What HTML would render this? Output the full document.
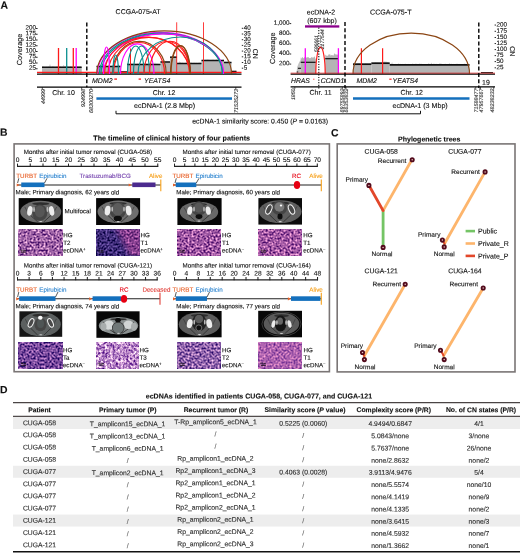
<!DOCTYPE html>
<html><head><meta charset="utf-8"><title>Figure</title>
<style>
html,body{margin:0;padding:0;background:#fff}
svg{display:block}
text{font-family:"Liberation Sans",sans-serif;stroke-width:0.12px;text-rendering:geometricPrecision}
</style></head><body>
<svg width="520" height="553" viewBox="0 0 520 553">
<defs>
<filter id="h1" x="0" y="0" width="100%" height="100%" color-interpolation-filters="sRGB"><feTurbulence type="fractalNoise" baseFrequency="0.5" numOctaves="3" seed="4"/><feColorMatrix type="matrix" values="1.570 0 0 0 -0.171  1.482 0 0 0 -0.359  1.098 0 0 0 0.098  0 0 0 0 1"/></filter>
<filter id="h2" x="0" y="0" width="100%" height="100%" color-interpolation-filters="sRGB"><feTurbulence type="fractalNoise" baseFrequency="0.5" numOctaves="3" seed="9"/><feColorMatrix type="matrix" values="1.021 0 0 0 -0.269  0.845 0 0 0 -0.252  1.054 0 0 0 -0.056  0 0 0 0 1"/></filter>
<filter id="h2b" x="0" y="0" width="100%" height="100%" color-interpolation-filters="sRGB"><feTurbulence type="fractalNoise" baseFrequency="0.5" numOctaves="3" seed="11"/><feColorMatrix type="matrix" values="1.186 0 0 0 -0.067  0.845 0 0 0 -0.174  0.845 0 0 0 0.140  0 0 0 0 1"/></filter>
<filter id="h3" x="0" y="0" width="100%" height="100%" color-interpolation-filters="sRGB"><feTurbulence type="fractalNoise" baseFrequency="0.5" numOctaves="3" seed="15"/><feColorMatrix type="matrix" values="1.537 0 0 0 -0.149  1.373 0 0 0 -0.343  1.043 0 0 0 0.116  0 0 0 0 1"/></filter>
<filter id="h4" x="0" y="0" width="100%" height="100%" color-interpolation-filters="sRGB"><feTurbulence type="fractalNoise" baseFrequency="0.5" numOctaves="3" seed="21"/><feColorMatrix type="matrix" values="1.515 0 0 0 -0.126  1.318 0 0 0 -0.314  0.988 0 0 0 0.145  0 0 0 0 1"/></filter>
<filter id="h5" x="0" y="0" width="100%" height="100%" color-interpolation-filters="sRGB"><feTurbulence type="fractalNoise" baseFrequency="0.5" numOctaves="3" seed="27"/><feColorMatrix type="matrix" values="1.482 0 0 0 -0.280  1.175 0 0 0 -0.307  0.988 0 0 0 0.114  0 0 0 0 1"/></filter>
<filter id="h6" x="0" y="0" width="100%" height="100%" color-interpolation-filters="sRGB"><feTurbulence type="fractalNoise" baseFrequency="0.38" numOctaves="3" seed="33"/><feColorMatrix type="matrix" values="1.537 0 0 0 -0.043  1.757 0 0 0 -0.349  0.988 0 0 0 0.290  0 0 0 0 1"/></filter>
<filter id="h7" x="0" y="0" width="100%" height="100%" color-interpolation-filters="sRGB"><feTurbulence type="fractalNoise" baseFrequency="0.5" numOctaves="3" seed="39"/><feColorMatrix type="matrix" values="1.504 0 0 0 -0.189  1.318 0 0 0 -0.267  0.955 0 0 0 0.195  0 0 0 0 1"/></filter>
<filter id="h8" x="0" y="0" width="100%" height="100%" color-interpolation-filters="sRGB"><feTurbulence type="fractalNoise" baseFrequency="0.5" numOctaves="3" seed="45"/><feColorMatrix type="matrix" values="1.071 0 0 0 0.141  0.867 0 0 0 -0.051  0.510 0 0 0 0.431  0 0 0 0 1"/></filter>
<filter id="blur1" x="-5%" y="-5%" width="110%" height="110%"><feGaussianBlur stdDeviation="0.5"/></filter>
<linearGradient id="fadeLR" x1="0" x2="1" y1="0.3" y2="0"><stop offset="0.42" stop-color="#000"/><stop offset="0.6" stop-color="#fff"/></linearGradient>
<mask id="mLR" maskContentUnits="objectBoundingBox"><rect width="1" height="1" fill="url(#fadeLR)"/></mask>
<clipPath id="cc187"><rect x="18.7" y="198.1" width="44.1" height="26.9"/></clipPath>
<clipPath id="cc961"><rect x="96.1" y="198.1" width="44.0" height="26.9"/></clipPath>
<clipPath id="cc1774"><rect x="177.4" y="198.1" width="44.2" height="26.9"/></clipPath>
<clipPath id="cc2584"><rect x="258.4" y="198.1" width="43.6" height="26.5"/></clipPath>
<clipPath id="cc194"><rect x="19.4" y="311.3" width="42.8" height="25.5"/></clipPath>
<clipPath id="cc964"><rect x="96.4" y="311.3" width="43.2" height="26.5"/></clipPath>
<clipPath id="cc1777"><rect x="177.7" y="311.0" width="43.9" height="26.3"/></clipPath>
<clipPath id="cc2582"><rect x="258.2" y="310.8" width="43.8" height="26.5"/></clipPath>
</defs>
<rect width="520" height="553" fill="#fff"/>
<g id="panelA">
<text x="0.40" y="8.74" font-size="10.4" font-weight="bold" fill="#111" stroke="#111" transform="rotate(0.03 0.40 8.74)">A</text>
<text x="138.10" y="14.02" font-size="7.0" text-anchor="middle" fill="#111" stroke="#111" transform="rotate(0.03 138.10 14.02)">CCGA-075-AT</text>
<text x="36.00" y="29.57" font-size="6.3" text-anchor="end" fill="#111" stroke="#111" transform="rotate(0.03 36.00 29.57)">200</text>
<line x1="35.90" y1="28.50" x2="37.60" y2="28.50" stroke="#111" stroke-width="0.9"/>
<text x="36.00" y="35.32" font-size="6.3" text-anchor="end" fill="#111" stroke="#111" transform="rotate(0.03 36.00 35.32)">175</text>
<line x1="35.90" y1="34.25" x2="37.60" y2="34.25" stroke="#111" stroke-width="0.9"/>
<text x="36.00" y="41.07" font-size="6.3" text-anchor="end" fill="#111" stroke="#111" transform="rotate(0.03 36.00 41.07)">150</text>
<line x1="35.90" y1="40.00" x2="37.60" y2="40.00" stroke="#111" stroke-width="0.9"/>
<text x="36.00" y="46.82" font-size="6.3" text-anchor="end" fill="#111" stroke="#111" transform="rotate(0.03 36.00 46.82)">125</text>
<line x1="35.90" y1="45.75" x2="37.60" y2="45.75" stroke="#111" stroke-width="0.9"/>
<text x="36.00" y="52.57" font-size="6.3" text-anchor="end" fill="#111" stroke="#111" transform="rotate(0.03 36.00 52.57)">100</text>
<line x1="35.90" y1="51.50" x2="37.60" y2="51.50" stroke="#111" stroke-width="0.9"/>
<text x="36.00" y="58.32" font-size="6.3" text-anchor="end" fill="#111" stroke="#111" transform="rotate(0.03 36.00 58.32)">75</text>
<line x1="35.90" y1="57.25" x2="37.60" y2="57.25" stroke="#111" stroke-width="0.9"/>
<text x="36.00" y="64.07" font-size="6.3" text-anchor="end" fill="#111" stroke="#111" transform="rotate(0.03 36.00 64.07)">50</text>
<line x1="35.90" y1="63.00" x2="37.60" y2="63.00" stroke="#111" stroke-width="0.9"/>
<text x="36.00" y="69.82" font-size="6.3" text-anchor="end" fill="#111" stroke="#111" transform="rotate(0.03 36.00 69.82)">25</text>
<line x1="35.90" y1="68.75" x2="37.60" y2="68.75" stroke="#111" stroke-width="0.9"/>
<text x="22.23" y="49.40" font-size="7.3" text-anchor="middle" fill="#111" stroke="#111" transform="rotate(-90 22.23 49.40)">Coverage</text>
<rect x="42.00" y="67.30" width="39.70" height="6.70" fill="#b4b4b4"/>
<polygon points="42.00,67.30 42.00,66.58 42.80,66.25 43.60,66.36 44.40,66.84 45.20,66.86 46.00,66.83 46.80,66.48 47.60,66.78 48.40,66.27 49.20,66.32 50.00,63.78 50.80,66.61 51.60,66.78 52.40,66.08 53.20,66.32 54.00,66.53 54.80,66.84 55.60,66.69 56.40,66.47 57.20,66.31 58.00,66.60 58.80,66.20 59.60,66.33 60.40,66.02 61.20,66.61 62.00,66.78 62.80,66.14 63.60,64.74 64.40,66.14 65.20,66.02 66.00,66.20 66.80,66.32 67.60,66.06 68.40,66.43 69.20,66.84 70.00,66.25 70.80,66.08 71.60,66.51 72.40,66.88 73.20,66.73 74.00,66.84 74.80,66.77 75.60,66.51 76.40,66.82 77.20,66.35 78.00,66.08 78.80,66.62 79.60,66.54 80.40,65.94 81.20,66.72 81.70,67.30" fill="#cdcdcd"/>
<line x1="42.00" y1="67.30" x2="81.70" y2="67.30" stroke="#111" stroke-width="1.5"/>
<rect x="96.50" y="66.50" width="24.00" height="7.50" fill="#b4b4b4"/>
<polygon points="96.50,66.50 96.50,65.91 97.30,65.63 98.10,66.10 98.90,65.80 99.70,65.34 100.50,65.69 101.30,65.56 102.10,65.38 102.90,65.40 103.70,65.79 104.50,66.02 105.30,66.05 106.10,65.93 106.90,65.83 107.70,66.10 108.50,66.02 109.30,66.08 110.10,65.61 110.90,65.90 111.70,65.81 112.50,65.42 113.30,65.73 114.10,66.03 114.90,65.83 115.70,65.44 116.50,66.08 117.30,65.68 118.10,64.35 118.90,65.32 119.70,65.54 120.50,65.81 120.50,66.50" fill="#cdcdcd"/>
<rect x="120.50" y="72.00" width="6.50" height="2.00" fill="#b4b4b4"/>
<polygon points="120.50,72.00 120.50,70.98 121.30,70.98 122.10,71.42 122.90,70.81 123.70,70.96 124.50,71.01 125.30,71.19 126.10,70.88 126.90,71.39 127.00,72.00" fill="#cdcdcd"/>
<rect x="127.00" y="64.50" width="33.50" height="9.50" fill="#b4b4b4"/>
<polygon points="127.00,64.50 127.00,63.33 127.80,63.35 128.60,63.34 129.40,63.92 130.20,63.94 131.00,63.60 131.80,63.43 132.60,63.58 133.40,64.03 134.20,63.37 135.00,63.50 135.80,63.96 136.60,63.83 137.40,63.32 138.20,63.78 139.00,63.52 139.80,64.00 140.60,63.38 141.40,63.98 142.20,63.32 143.00,63.82 143.80,61.57 144.60,63.58 145.40,63.35 146.20,63.40 147.00,63.93 147.80,63.87 148.60,63.63 149.40,63.76 150.20,63.37 151.00,63.73 151.80,63.38 152.60,63.37 153.40,63.67 154.20,64.09 155.00,61.96 155.80,63.96 156.60,63.52 157.40,63.84 158.20,63.66 159.00,64.02 159.80,63.90 160.50,64.50" fill="#cdcdcd"/>
<rect x="160.50" y="62.00" width="9.50" height="12.00" fill="#b4b4b4"/>
<polygon points="160.50,62.00 160.50,60.98 161.30,61.15 162.10,60.87 162.90,61.11 163.70,61.19 164.50,61.24 165.30,61.22 166.10,61.04 166.90,60.85 167.70,61.15 168.50,60.93 169.30,61.50 170.00,62.00" fill="#cdcdcd"/>
<rect x="170.00" y="57.20" width="7.00" height="16.80" fill="#b4b4b4"/>
<polygon points="170.00,57.20 170.00,56.74 170.80,56.74 171.60,56.17 172.40,56.68 173.20,56.27 174.00,56.09 174.80,56.62 175.60,56.48 176.40,56.01 177.00,57.20" fill="#cdcdcd"/>
<rect x="177.00" y="63.50" width="24.50" height="10.50" fill="#b4b4b4"/>
<polygon points="177.00,63.50 177.00,62.97 177.80,62.69 178.60,62.94 179.40,61.14 180.20,61.92 181.00,62.60 181.80,63.05 182.60,62.47 183.40,63.02 184.20,63.07 185.00,62.88 185.80,62.76 186.60,62.44 187.40,62.98 188.20,62.64 189.00,63.03 189.80,62.55 190.60,63.04 191.40,62.59 192.20,63.03 193.00,63.05 193.80,62.74 194.60,62.66 195.40,62.89 196.20,62.68 197.00,63.01 197.80,63.06 198.60,62.85 199.40,62.49 200.20,62.70 201.00,62.20 201.50,63.50" fill="#cdcdcd"/>
<rect x="201.50" y="60.50" width="22.50" height="13.50" fill="#b4b4b4"/>
<polygon points="201.50,60.50 201.50,60.09 202.30,59.66 203.10,59.72 203.90,60.01 204.70,59.75 205.50,59.43 206.30,59.69 207.10,59.31 207.90,59.43 208.70,59.59 209.50,59.82 210.30,60.00 211.10,59.51 211.90,59.97 212.70,59.43 213.50,59.56 214.30,59.91 215.10,59.73 215.90,59.74 216.70,59.33 217.50,59.66 218.30,59.33 219.10,58.86 219.90,59.72 220.70,59.94 221.50,60.10 222.30,60.03 223.10,59.31 223.90,59.91 224.00,60.50" fill="#cdcdcd"/>
<rect x="224.00" y="62.50" width="7.50" height="11.50" fill="#b4b4b4"/>
<polygon points="224.00,62.50 224.00,61.68 224.80,61.57 225.60,61.40 226.40,61.84 227.20,61.98 228.00,59.50 228.80,61.39 229.60,61.51 230.40,61.99 231.20,61.70 231.50,62.50" fill="#cdcdcd"/>
<rect x="231.50" y="71.50" width="5.00" height="2.50" fill="#b4b4b4"/>
<polygon points="231.50,71.50 231.50,70.46 232.30,70.63 233.10,70.55 233.90,70.58 234.70,70.81 235.50,70.43 236.30,70.60 236.50,71.50" fill="#cdcdcd"/>
<line x1="96.50" y1="66.50" x2="120.50" y2="66.50" stroke="#111" stroke-width="1.5"/>
<line x1="120.50" y1="72.00" x2="127.00" y2="72.00" stroke="#111" stroke-width="1.5"/>
<line x1="127.00" y1="64.50" x2="160.50" y2="64.50" stroke="#111" stroke-width="1.5"/>
<line x1="160.50" y1="62.00" x2="170.00" y2="62.00" stroke="#111" stroke-width="1.5"/>
<line x1="170.00" y1="57.20" x2="177.00" y2="57.20" stroke="#111" stroke-width="1.5"/>
<line x1="177.00" y1="63.50" x2="201.50" y2="63.50" stroke="#111" stroke-width="1.5"/>
<line x1="201.50" y1="60.50" x2="224.00" y2="60.50" stroke="#111" stroke-width="1.5"/>
<line x1="224.00" y1="62.50" x2="231.50" y2="62.50" stroke="#111" stroke-width="1.5"/>
<line x1="231.50" y1="71.50" x2="236.50" y2="71.50" stroke="#111" stroke-width="1.5"/>
<line x1="58.50" y1="48.00" x2="58.50" y2="74.00" stroke="#ff1a1a" stroke-width="1.3"/>
<line x1="66.70" y1="48.00" x2="66.70" y2="74.00" stroke="#0a8f8f" stroke-width="1.3"/>
<line x1="73.30" y1="48.00" x2="73.30" y2="74.00" stroke="#ff1a1a" stroke-width="1.3"/>
<line x1="76.20" y1="48.00" x2="76.20" y2="74.00" stroke="#ff00ff" stroke-width="1.3"/>
<line x1="130.50" y1="48.50" x2="130.50" y2="74.00" stroke="#ff1a1a" stroke-width="1.0"/>
<line x1="176.70" y1="22.30" x2="176.70" y2="74.00" stroke="#ff1a1a" stroke-width="0.85"/>
<line x1="203.50" y1="22.30" x2="203.50" y2="74.00" stroke="#ff1a1a" stroke-width="0.85"/>
<line x1="37.00" y1="72.40" x2="241.50" y2="72.40" stroke="#ff1a1a" stroke-width="1.1"/>
<line x1="37.00" y1="74.20" x2="241.50" y2="74.20" stroke="#000" stroke-width="1.3"/>
<path d="M97.50 74.00A62.95 41.60 0 0 1 223.40 74.00" fill="none" stroke="#ff00ff" stroke-width="1.15"/>
<path d="M96.80 74.00A67.35 43.20 0 0 1 231.50 74.00" fill="none" stroke="#8b4513" stroke-width="1.15"/>
<path d="M99.50 74.00A61.70 41.00 0 0 1 222.90 74.00" fill="none" stroke="#0a8f8f" stroke-width="1.15"/>
<path d="M101.00 74.00A60.85 40.40 0 0 1 222.70 74.00" fill="none" stroke="#0a8f8f" stroke-width="1.15"/>
<path d="M103.50 74.00A60.05 40.10 0 0 1 223.60 74.00" fill="none" stroke="#ff00ff" stroke-width="1.15"/>
<path d="M104.50 74.00A42.50 37.00 0 0 1 189.50 74.00" fill="none" stroke="#ff1a1a" stroke-width="1.15"/>
<path d="M108.00 74.00A40.95 36.60 0 0 1 189.90 74.00" fill="none" stroke="#ff1a1a" stroke-width="1.15"/>
<path d="M112.50 74.00A26.85 32.70 0 0 1 166.20 74.00" fill="none" stroke="#8b4513" stroke-width="1.15"/>
<path d="M113.50 74.00A25.50 31.50 0 0 1 164.50 74.00" fill="none" stroke="#ff1a1a" stroke-width="1.15"/>
<path d="M120.50 74.00A16.75 30.10 0 0 1 154.00 74.00" fill="none" stroke="#ff00ff" stroke-width="1.15"/>
<path d="M103.50 74.00A3.00 27.00 0 0 1 109.50 74.00" fill="none" stroke="#ff00ff" stroke-width="1.15"/>
<path d="M113.00 74.00A2.75 19.00 0 0 1 118.50 74.00" fill="none" stroke="#0a8f8f" stroke-width="1.15"/>
<path d="M127.50 74.00A8.25 28.00 0 0 1 144.00 74.00" fill="none" stroke="#0a8f8f" stroke-width="1.15"/>
<path d="M133.50 74.00A8.00 28.00 0 0 1 149.50 74.00" fill="none" stroke="#0a8f8f" stroke-width="1.15"/>
<path d="M138.00 74.00A42.15 37.00 0 0 1 222.30 74.00" fill="none" stroke="#0a8f8f" stroke-width="1.15"/>
<path d="M144.00 74.00A23.05 32.50 0 0 1 190.10 74.00" fill="none" stroke="#ff1a1a" stroke-width="1.15"/>
<path d="M149.50 74.00A20.45 32.70 0 0 1 190.40 74.00" fill="none" stroke="#ff1a1a" stroke-width="1.15"/>
<path d="M170.50 74.00A9.75 28.50 0 0 1 190.00 74.00" fill="none" stroke="#8b4513" stroke-width="1.15"/>
<path d="M171.00 74.00A9.70 28.10 0 0 1 190.40 74.00" fill="none" stroke="#8b4513" stroke-width="1.15"/>
<line x1="37.00" y1="87.20" x2="241.50" y2="87.20" stroke="#000" stroke-width="1.2"/>
<line x1="86.80" y1="22.50" x2="86.80" y2="87.30" stroke="#000" stroke-width="1.4" stroke-dasharray="4 2.3"/>
<text x="92.00" y="83.12" font-size="7.0" font-style="italic" fill="#111" stroke="#111" transform="rotate(0.03 92.00 83.12)">MDM2</text>
<line x1="114.30" y1="79.10" x2="117.00" y2="79.10" stroke="#ff1a1a" stroke-width="1.3"/>
<line x1="138.60" y1="79.10" x2="141.00" y2="79.10" stroke="#ff1a1a" stroke-width="1.3"/>
<text x="144.00" y="83.12" font-size="7.0" font-style="italic" fill="#111" stroke="#111" transform="rotate(0.03 144.00 83.12)">YEATS4</text>
<line x1="42.30" y1="87.30" x2="42.30" y2="89.30" stroke="#000" stroke-width="0.7"/>
<line x1="81.70" y1="87.30" x2="81.70" y2="89.30" stroke="#000" stroke-width="0.7"/>
<line x1="91.00" y1="87.30" x2="91.00" y2="89.30" stroke="#000" stroke-width="0.7"/>
<line x1="235.80" y1="87.30" x2="235.80" y2="89.30" stroke="#000" stroke-width="0.7"/>
<text x="63.50" y="95.12" font-size="7.0" text-anchor="middle" fill="#111" stroke="#111" transform="rotate(0.03 63.50 95.12)">Chr. 10</text>
<text x="164.00" y="95.12" font-size="7.0" text-anchor="middle" fill="#111" stroke="#111" transform="rotate(0.03 164.00 95.12)">Chr. 12</text>
<text x="44.64" y="88.90" font-size="5.4" text-anchor="end" font-style="italic" fill="#333" stroke="#333" transform="rotate(-90 44.64 88.90)" stroke-width="0">44999</text>
<text x="84.64" y="88.90" font-size="5.4" text-anchor="end" font-style="italic" fill="#333" stroke="#333" transform="rotate(-90 84.64 88.90)" stroke-width="0">924998</text>
<text x="93.14" y="88.90" font-size="5.4" text-anchor="end" font-style="italic" fill="#333" stroke="#333" transform="rotate(-90 93.14 88.90)" stroke-width="0">68300270</text>
<text x="238.24" y="88.90" font-size="5.4" text-anchor="end" font-style="italic" fill="#333" stroke="#333" transform="rotate(-90 238.24 88.90)" stroke-width="0">71535273</text>
<rect x="96.40" y="97.30" width="135.60" height="2.50" fill="#1470bd"/>
<text x="164.60" y="107.96" font-size="7.1" text-anchor="middle" fill="#111" stroke="#111" transform="rotate(0.03 164.60 107.96)">ecDNA-1 (2.8 Mbp)</text>
<path d="M116 110.8V113.8H420.5V110.8" fill="none" stroke="#111" stroke-width="1.0"/>
<text x="192.20" y="123.47" font-size="6.87" fill="#111" stroke="#111" transform="rotate(0.03 192.20 123.47)">ecDNA-1 similarity score: 0.450 (<tspan font-style="italic">P</tspan> = 0.0163)</text>
<text x="243.80" y="29.77" font-size="6.3" fill="#111" stroke="#111" transform="rotate(0.03 243.80 29.77)">40</text>
<line x1="241.80" y1="28.30" x2="243.20" y2="28.30" stroke="#111" stroke-width="0.9"/>
<text x="243.80" y="35.47" font-size="6.3" fill="#111" stroke="#111" transform="rotate(0.03 243.80 35.47)">35</text>
<line x1="241.80" y1="34.00" x2="243.20" y2="34.00" stroke="#111" stroke-width="0.9"/>
<text x="243.80" y="41.17" font-size="6.3" fill="#111" stroke="#111" transform="rotate(0.03 243.80 41.17)">30</text>
<line x1="241.80" y1="39.70" x2="243.20" y2="39.70" stroke="#111" stroke-width="0.9"/>
<text x="243.80" y="46.87" font-size="6.3" fill="#111" stroke="#111" transform="rotate(0.03 243.80 46.87)">25</text>
<line x1="241.80" y1="45.40" x2="243.20" y2="45.40" stroke="#111" stroke-width="0.9"/>
<text x="243.80" y="52.57" font-size="6.3" fill="#111" stroke="#111" transform="rotate(0.03 243.80 52.57)">20</text>
<line x1="241.80" y1="51.10" x2="243.20" y2="51.10" stroke="#111" stroke-width="0.9"/>
<text x="243.80" y="58.27" font-size="6.3" fill="#111" stroke="#111" transform="rotate(0.03 243.80 58.27)">15</text>
<line x1="241.80" y1="56.80" x2="243.20" y2="56.80" stroke="#111" stroke-width="0.9"/>
<text x="243.80" y="63.97" font-size="6.3" fill="#111" stroke="#111" transform="rotate(0.03 243.80 63.97)">10</text>
<line x1="241.80" y1="62.50" x2="243.20" y2="62.50" stroke="#111" stroke-width="0.9"/>
<text x="243.80" y="69.67" font-size="6.3" fill="#111" stroke="#111" transform="rotate(0.03 243.80 69.67)">5</text>
<line x1="241.80" y1="68.20" x2="243.20" y2="68.20" stroke="#111" stroke-width="0.9"/>
<text x="252.88" y="53.80" font-size="7.0" text-anchor="middle" fill="#111" stroke="#111" transform="rotate(90 252.88 53.80)">CN</text>
<text x="321.00" y="14.52" font-size="7.0" text-anchor="middle" fill="#111" stroke="#111" transform="rotate(0.03 321.00 14.52)">ecDNA-2</text>
<text x="322.00" y="23.12" font-size="7.0" text-anchor="middle" fill="#111" stroke="#111" transform="rotate(0.03 322.00 23.12)">(607 kbp)</text>
<rect x="305.00" y="25.30" width="34.30" height="2.30" fill="#8b008b"/>
<text x="390.80" y="14.46" font-size="7.1" text-anchor="middle" fill="#111" stroke="#111" transform="rotate(0.03 390.80 14.46)">CCGA-075-T</text>
<text x="289.60" y="24.67" font-size="6.3" text-anchor="end" fill="#111" stroke="#111" transform="rotate(0.03 289.60 24.67)">1,000</text>
<line x1="289.50" y1="23.60" x2="291.20" y2="23.60" stroke="#111" stroke-width="0.9"/>
<text x="289.60" y="34.97" font-size="6.3" text-anchor="end" fill="#111" stroke="#111" transform="rotate(0.03 289.60 34.97)">800</text>
<line x1="289.50" y1="33.90" x2="291.20" y2="33.90" stroke="#111" stroke-width="0.9"/>
<text x="289.60" y="45.07" font-size="6.3" text-anchor="end" fill="#111" stroke="#111" transform="rotate(0.03 289.60 45.07)">600</text>
<line x1="289.50" y1="44.00" x2="291.20" y2="44.00" stroke="#111" stroke-width="0.9"/>
<text x="289.60" y="55.07" font-size="6.3" text-anchor="end" fill="#111" stroke="#111" transform="rotate(0.03 289.60 55.07)">400</text>
<line x1="289.50" y1="54.00" x2="291.20" y2="54.00" stroke="#111" stroke-width="0.9"/>
<text x="289.60" y="65.17" font-size="6.3" text-anchor="end" fill="#111" stroke="#111" transform="rotate(0.03 289.60 65.17)">200</text>
<line x1="289.50" y1="64.10" x2="291.20" y2="64.10" stroke="#111" stroke-width="0.9"/>
<text x="275.23" y="48.20" font-size="7.3" text-anchor="middle" fill="#111" stroke="#111" transform="rotate(-90 275.23 48.20)">Coverage</text>
<polygon points="296.3,73.8 297.2,67 298.6,63.5 300.7,59.5 300.7,73.8" fill="#c2c2c2"/>
<polygon points="300.70,73.80 300.70,57.20 301.40,58.69 302.10,57.05 302.80,57.52 303.50,58.55 304.20,57.61 304.90,57.10 305.60,57.07 306.30,57.61 307.00,57.65 307.70,57.01 308.40,56.99 309.10,58.14 309.80,58.03 310.50,58.14 311.20,57.22 311.90,57.21 312.60,57.56 313.30,57.67 314.00,56.73 314.70,56.55 315.40,58.66 315.80,58.70 315.80,73.80" fill="#b4b4b4"/>
<line x1="300.70" y1="62.30" x2="315.80" y2="62.30" stroke="#111" stroke-width="1.2"/>
<polygon points="325.20,73.80 325.20,54.46 325.90,55.20 326.60,55.68 327.30,55.68 328.00,55.82 328.70,54.19 329.40,54.46 330.10,54.33 330.80,55.64 331.50,55.12 332.20,55.12 332.90,55.50 333.60,55.41 334.30,52.92 335.00,54.42 335.70,54.25 336.40,54.30 337.10,55.36 337.80,54.10 338.40,56.10 338.40,73.80" fill="#b4b4b4"/>
<line x1="325.20" y1="58.70" x2="338.40" y2="58.70" stroke="#111" stroke-width="1.2"/>
<line x1="298.00" y1="68.30" x2="301.00" y2="68.30" stroke="#111" stroke-width="1.1"/>
<line x1="296.80" y1="72.00" x2="298.20" y2="72.00" stroke="#111" stroke-width="1"/>
<rect x="353.00" y="64.20" width="18.40" height="9.60" fill="#b4b4b4"/>
<polygon points="353.00,64.20 353.00,63.44 353.80,63.27 354.60,62.97 355.40,62.86 356.20,63.53 357.00,63.61 357.80,62.84 358.60,62.99 359.40,62.89 360.20,63.25 361.00,63.75 361.80,63.35 362.60,63.16 363.40,63.75 364.20,63.67 365.00,63.46 365.80,63.06 366.60,63.54 367.40,63.50 368.20,63.41 369.00,63.64 369.80,62.89 370.60,63.58 371.40,64.20" fill="#cdcdcd"/>
<rect x="371.40" y="63.20" width="18.30" height="10.60" fill="#b4b4b4"/>
<polygon points="371.40,63.20 371.40,61.80 372.20,62.66 373.00,62.71 373.80,62.71 374.60,62.54 375.40,61.91 376.20,62.39 377.00,62.28 377.80,62.46 378.60,62.52 379.40,62.67 380.20,62.17 381.00,62.58 381.80,62.55 382.60,62.35 383.40,61.95 384.20,61.00 385.00,61.90 385.80,61.23 386.60,61.87 387.40,61.94 388.20,62.55 389.00,62.65 389.70,63.20" fill="#cdcdcd"/>
<rect x="389.70" y="64.90" width="79.80" height="8.90" fill="#b4b4b4"/>
<polygon points="389.70,64.90 389.70,63.82 390.50,63.78 391.30,63.74 392.10,61.99 392.90,64.27 393.70,63.85 394.50,64.37 395.30,63.86 396.10,64.39 396.90,63.98 397.70,64.11 398.50,63.15 399.30,64.04 400.10,63.86 400.90,64.02 401.70,64.25 402.50,63.80 403.30,64.48 404.10,63.83 404.90,64.24 405.70,63.57 406.50,64.47 407.30,64.08 408.10,64.30 408.90,63.76 409.70,64.29 410.50,64.19 411.30,64.27 412.10,63.74 412.90,63.55 413.70,64.31 414.50,64.08 415.30,63.55 416.10,64.11 416.90,63.53 417.70,64.45 418.50,64.11 419.30,63.62 420.10,63.50 420.90,64.17 421.70,63.56 422.50,64.47 423.30,64.12 424.10,64.17 424.90,64.50 425.70,64.15 426.50,64.38 427.30,64.29 428.10,63.68 428.90,62.88 429.70,64.13 430.50,64.31 431.30,62.58 432.10,63.69 432.90,64.30 433.70,63.58 434.50,63.75 435.30,64.16 436.10,63.54 436.90,64.24 437.70,64.18 438.50,64.50 439.30,63.58 440.10,62.97 440.90,64.02 441.70,63.55 442.50,64.25 443.30,64.01 444.10,64.32 444.90,63.76 445.70,63.73 446.50,64.17 447.30,64.14 448.10,64.42 448.90,63.75 449.70,63.05 450.50,64.17 451.30,63.62 452.10,64.24 452.90,64.40 453.70,63.79 454.50,64.27 455.30,63.88 456.10,63.75 456.90,63.84 457.70,63.66 458.50,63.93 459.30,63.76 460.10,64.25 460.90,64.35 461.70,63.92 462.50,64.10 463.30,63.99 464.10,63.69 464.90,63.51 465.70,64.03 466.50,63.66 467.30,64.46 468.10,64.38 468.90,63.53 469.50,64.90" fill="#cdcdcd"/>
<line x1="353.00" y1="64.20" x2="371.40" y2="64.20" stroke="#111" stroke-width="1.7"/>
<line x1="371.40" y1="63.20" x2="389.70" y2="63.20" stroke="#111" stroke-width="1.7"/>
<line x1="389.70" y1="64.90" x2="469.50" y2="64.90" stroke="#111" stroke-width="1.7"/>
<line x1="481.00" y1="72.60" x2="493.00" y2="72.60" stroke="#111" stroke-width="1.0"/>
<line x1="305.30" y1="48.20" x2="305.30" y2="73.80" stroke="#ff00ff" stroke-width="1.3"/>
<line x1="338.40" y1="48.20" x2="338.40" y2="73.80" stroke="#ff00ff" stroke-width="1.3"/>
<line x1="361.40" y1="48.20" x2="361.40" y2="73.80" stroke="#ff1a1a" stroke-width="1.2"/>
<line x1="382.60" y1="48.20" x2="382.60" y2="73.80" stroke="#ff1a1a" stroke-width="1.2"/>
<path d="M315.80 73.80A4.70 26.60 0 0 1 325.20 73.80" fill="none" stroke="#ff1a1a" stroke-width="1.2"/>
<path d="M353.00 73.80A58.25 40.70 0 0 1 469.50 73.80" fill="none" stroke="#8b4513" stroke-width="1.1"/>
<line x1="318.80" y1="27.50" x2="318.80" y2="88.50" stroke="#111" stroke-width="1.1" stroke-dasharray="1.2 1.4"/>
<text x="317.50" y="52.00" font-size="5.0" font-style="italic" fill="#333" stroke="#333" transform="rotate(-90 317.50 52.00)" stroke-width="0">596661</text>
<text x="323.84" y="49.20" font-size="5.1" font-style="italic" fill="#333" stroke="#333" transform="rotate(-90 323.84 49.20)" stroke-width="0">2177544</text>
<line x1="290.60" y1="73.20" x2="495.00" y2="73.20" stroke="#d81e1e" stroke-width="0.9"/>
<line x1="290.60" y1="74.20" x2="495.00" y2="74.20" stroke="#000" stroke-width="1.1"/>
<line x1="290.60" y1="86.90" x2="495.00" y2="86.90" stroke="#000" stroke-width="1.2"/>
<line x1="345.00" y1="22.00" x2="345.00" y2="88.00" stroke="#000" stroke-width="1.4" stroke-dasharray="4 2.3"/>
<line x1="478.80" y1="22.50" x2="478.80" y2="88.00" stroke="#000" stroke-width="1.4" stroke-dasharray="4 2.3"/>
<text x="291.00" y="82.95" font-size="6.8" font-style="italic" fill="#111" stroke="#111" transform="rotate(0.03 291.00 82.95)">HRAS</text>
<line x1="313.20" y1="79.20" x2="314.40" y2="79.20" stroke="#ff1a1a" stroke-width="0.9"/>
<text x="320.80" y="82.95" font-size="6.8" font-style="italic" fill="#111" stroke="#111" transform="rotate(0.03 320.80 82.95)">CCND1</text>
<text x="356.40" y="83.02" font-size="7.0" font-style="italic" fill="#111" stroke="#111" transform="rotate(0.03 356.40 83.02)">MDM2</text>
<line x1="389.30" y1="79.20" x2="391.60" y2="79.20" stroke="#ff1a1a" stroke-width="1.2"/>
<text x="392.60" y="82.95" font-size="6.8" font-style="italic" fill="#111" stroke="#111" transform="rotate(0.03 392.60 82.95)">YEATS4</text>
<text x="486.00" y="84.82" font-size="7.0" text-anchor="middle" fill="#111" stroke="#111" transform="rotate(0.03 486.00 84.82)">19</text>
<text x="320.60" y="94.82" font-size="7.0" text-anchor="middle" fill="#111" stroke="#111" transform="rotate(0.03 320.60 94.82)">Chr. 11</text>
<text x="411.70" y="94.82" font-size="7.0" text-anchor="middle" fill="#111" stroke="#111" transform="rotate(0.03 411.70 94.82)">Chr. 12</text>
<line x1="294.80" y1="87.00" x2="294.80" y2="89.00" stroke="#000" stroke-width="0.6"/>
<line x1="342.40" y1="87.00" x2="342.40" y2="89.00" stroke="#000" stroke-width="0.6"/>
<line x1="346.00" y1="87.00" x2="346.00" y2="89.00" stroke="#000" stroke-width="0.6"/>
<line x1="475.70" y1="87.00" x2="475.70" y2="89.00" stroke="#000" stroke-width="0.6"/>
<line x1="480.50" y1="87.00" x2="480.50" y2="89.00" stroke="#000" stroke-width="0.6"/>
<line x1="493.70" y1="87.00" x2="493.70" y2="89.00" stroke="#000" stroke-width="0.6"/>
<text x="295.27" y="88.50" font-size="5.2" text-anchor="end" font-style="italic" fill="#333" stroke="#333" transform="rotate(-90 295.27 88.50)" stroke-width="0">1850</text>
<text x="344.33" y="88.60" font-size="5.35" text-anchor="end" font-style="italic" fill="#333" stroke="#333" transform="rotate(-90 344.33 88.60)" stroke-width="0">69755892</text>
<text x="348.33" y="88.60" font-size="5.35" text-anchor="end" font-style="italic" fill="#333" stroke="#333" transform="rotate(-90 348.33 88.60)" stroke-width="0">66353832</text>
<text x="478.43" y="88.60" font-size="5.35" text-anchor="end" font-style="italic" fill="#333" stroke="#333" transform="rotate(-90 478.43 88.60)" stroke-width="0">71588477</text>
<text x="483.33" y="88.60" font-size="5.35" text-anchor="end" font-style="italic" fill="#333" stroke="#333" transform="rotate(-90 483.33 88.60)" stroke-width="0">47957667</text>
<text x="494.43" y="88.60" font-size="5.35" text-anchor="end" font-style="italic" fill="#333" stroke="#333" transform="rotate(-90 494.43 88.60)" stroke-width="0">48238232</text>
<rect x="353.00" y="97.25" width="116.50" height="2.50" fill="#1470bd"/>
<text x="392.50" y="108.06" font-size="7.1" fill="#111" stroke="#111" transform="rotate(0.03 392.50 108.06)">ecDNA-1 (3 Mbp)</text>
<text x="496.50" y="26.52" font-size="6.3" fill="#111" stroke="#111" transform="rotate(0.03 496.50 26.52)">200</text>
<line x1="494.60" y1="25.05" x2="496.00" y2="25.05" stroke="#111" stroke-width="0.9"/>
<text x="496.50" y="32.77" font-size="6.3" fill="#111" stroke="#111" transform="rotate(0.03 496.50 32.77)">175</text>
<line x1="494.60" y1="31.30" x2="496.00" y2="31.30" stroke="#111" stroke-width="0.9"/>
<text x="496.50" y="38.97" font-size="6.3" fill="#111" stroke="#111" transform="rotate(0.03 496.50 38.97)">150</text>
<line x1="494.60" y1="37.50" x2="496.00" y2="37.50" stroke="#111" stroke-width="0.9"/>
<text x="496.50" y="45.02" font-size="6.3" fill="#111" stroke="#111" transform="rotate(0.03 496.50 45.02)">125</text>
<line x1="494.60" y1="43.55" x2="496.00" y2="43.55" stroke="#111" stroke-width="0.9"/>
<text x="496.50" y="51.07" font-size="6.3" fill="#111" stroke="#111" transform="rotate(0.03 496.50 51.07)">100</text>
<line x1="494.60" y1="49.60" x2="496.00" y2="49.60" stroke="#111" stroke-width="0.9"/>
<text x="496.50" y="57.07" font-size="6.3" fill="#111" stroke="#111" transform="rotate(0.03 496.50 57.07)">75</text>
<line x1="494.60" y1="55.60" x2="496.00" y2="55.60" stroke="#111" stroke-width="0.9"/>
<text x="496.50" y="63.07" font-size="6.3" fill="#111" stroke="#111" transform="rotate(0.03 496.50 63.07)">50</text>
<line x1="494.60" y1="61.60" x2="496.00" y2="61.60" stroke="#111" stroke-width="0.9"/>
<text x="496.50" y="69.27" font-size="6.3" fill="#111" stroke="#111" transform="rotate(0.03 496.50 69.27)">25</text>
<line x1="494.60" y1="67.80" x2="496.00" y2="67.80" stroke="#111" stroke-width="0.9"/>
<text x="510.08" y="51.30" font-size="7.0" text-anchor="middle" fill="#111" stroke="#111" transform="rotate(90 510.08 51.30)">CN</text>
</g>
<g id="panelB">
<text x="0.10" y="135.74" font-size="10.4" font-weight="bold" fill="#111" stroke="#111" transform="rotate(0.03 0.10 135.74)">B</text>
<text x="171.70" y="140.58" font-size="7.17" text-anchor="middle" font-weight="bold" fill="#111" stroke="#111" transform="rotate(0.03 171.70 140.58)">The timeline of clinical history of four patients</text>
<rect x="14.1" y="143.9" width="315.3" height="227.8" fill="#fff" stroke="#7a7575" stroke-width="1.6"/>
<text x="23.75" y="154.04" font-size="6.22" fill="#111" stroke="#111" transform="rotate(0.03 23.75 154.04)">Months after initial tumor removal (CUGA-058)</text>
<line x1="17.00" y1="166.30" x2="158.25" y2="166.30" stroke="#222" stroke-width="1.15"/>
<line x1="17.50" y1="163.60" x2="17.50" y2="166.80" stroke="#222" stroke-width="1.05"/>
<text x="17.50" y="162.08" font-size="6.6" text-anchor="middle" fill="#111" stroke="#111" transform="rotate(0.03 17.50 162.08)">0</text>
<line x1="30.25" y1="163.60" x2="30.25" y2="166.80" stroke="#222" stroke-width="1.05"/>
<text x="30.25" y="162.08" font-size="6.6" text-anchor="middle" fill="#111" stroke="#111" transform="rotate(0.03 30.25 162.08)">5</text>
<line x1="43.00" y1="163.60" x2="43.00" y2="166.80" stroke="#222" stroke-width="1.05"/>
<text x="43.00" y="162.08" font-size="6.6" text-anchor="middle" fill="#111" stroke="#111" transform="rotate(0.03 43.00 162.08)">10</text>
<line x1="55.75" y1="163.60" x2="55.75" y2="166.80" stroke="#222" stroke-width="1.05"/>
<text x="55.75" y="162.08" font-size="6.6" text-anchor="middle" fill="#111" stroke="#111" transform="rotate(0.03 55.75 162.08)">15</text>
<line x1="68.50" y1="163.60" x2="68.50" y2="166.80" stroke="#222" stroke-width="1.05"/>
<text x="68.50" y="162.08" font-size="6.6" text-anchor="middle" fill="#111" stroke="#111" transform="rotate(0.03 68.50 162.08)">20</text>
<line x1="81.25" y1="163.60" x2="81.25" y2="166.80" stroke="#222" stroke-width="1.05"/>
<text x="81.25" y="162.08" font-size="6.6" text-anchor="middle" fill="#111" stroke="#111" transform="rotate(0.03 81.25 162.08)">25</text>
<line x1="94.00" y1="163.60" x2="94.00" y2="166.80" stroke="#222" stroke-width="1.05"/>
<text x="94.00" y="162.08" font-size="6.6" text-anchor="middle" fill="#111" stroke="#111" transform="rotate(0.03 94.00 162.08)">30</text>
<line x1="106.75" y1="163.60" x2="106.75" y2="166.80" stroke="#222" stroke-width="1.05"/>
<text x="106.75" y="162.08" font-size="6.6" text-anchor="middle" fill="#111" stroke="#111" transform="rotate(0.03 106.75 162.08)">35</text>
<line x1="119.50" y1="163.60" x2="119.50" y2="166.80" stroke="#222" stroke-width="1.05"/>
<text x="119.50" y="162.08" font-size="6.6" text-anchor="middle" fill="#111" stroke="#111" transform="rotate(0.03 119.50 162.08)">40</text>
<line x1="132.25" y1="163.60" x2="132.25" y2="166.80" stroke="#222" stroke-width="1.05"/>
<text x="132.25" y="162.08" font-size="6.6" text-anchor="middle" fill="#111" stroke="#111" transform="rotate(0.03 132.25 162.08)">45</text>
<line x1="145.00" y1="163.60" x2="145.00" y2="166.80" stroke="#222" stroke-width="1.05"/>
<text x="145.00" y="162.08" font-size="6.6" text-anchor="middle" fill="#111" stroke="#111" transform="rotate(0.03 145.00 162.08)">50</text>
<line x1="157.75" y1="163.60" x2="157.75" y2="166.80" stroke="#222" stroke-width="1.05"/>
<text x="157.75" y="162.08" font-size="6.6" text-anchor="middle" fill="#111" stroke="#111" transform="rotate(0.03 157.75 162.08)">55</text>
<line x1="17.00" y1="185.00" x2="160.70" y2="185.00" stroke="#222" stroke-width="1.05"/>
<path d="M16.70 183.40L19.70 185.00L16.70 186.60Z" fill="#e8622a"/>
<rect x="21.25" y="182.50" width="23.25" height="4.60" fill="#1470bd"/>
<path d="M128.70 183.40L131.70 185.00L128.70 186.60Z" fill="#e8622a"/>
<rect x="132.30" y="182.50" width="23.20" height="4.60" fill="#4b2a8e"/>
<line x1="160.80" y1="179.50" x2="160.80" y2="191.30" stroke="#f6a01a" stroke-width="1.1"/>
<line x1="18.80" y1="178.30" x2="17.60" y2="183.00" stroke="#222" stroke-width="0.75"/>
<line x1="47.00" y1="178.30" x2="44.50" y2="183.00" stroke="#222" stroke-width="0.75"/>
<text x="16.25" y="178.04" font-size="6.22" fill="#e8622a" stroke="#e8622a" transform="rotate(0.03 16.25 178.04)">TURBT</text>
<text x="39.25" y="178.04" font-size="6.22" fill="#2f86d0" stroke="#2f86d0" transform="rotate(0.03 39.25 178.04)">Epirubicin</text>
<text x="79.50" y="178.04" font-size="6.22" fill="#7848b0" stroke="#7848b0" transform="rotate(0.03 79.50 178.04)">Trastuzumab/BCG</text>
<text x="148.90" y="178.04" font-size="6.22" fill="#f6a01a" stroke="#f6a01a" transform="rotate(0.03 148.90 178.04)">Alive</text>
<text x="15.50" y="194.34" font-size="6.22" fill="#111" stroke="#111" transform="rotate(0.03 15.50 194.34)">Male; Primary diagnosis, 62 years old</text>
<text x="182.50" y="154.04" font-size="6.22" fill="#111" stroke="#111" transform="rotate(0.03 182.50 154.04)">Months after initial tumor removal (CUGA-077)</text>
<line x1="174.00" y1="166.30" x2="317.80" y2="166.30" stroke="#222" stroke-width="1.15"/>
<line x1="174.50" y1="163.60" x2="174.50" y2="166.80" stroke="#222" stroke-width="1.05"/>
<text x="174.50" y="162.08" font-size="6.6" text-anchor="middle" fill="#111" stroke="#111" transform="rotate(0.03 174.50 162.08)">0</text>
<line x1="184.70" y1="163.60" x2="184.70" y2="166.80" stroke="#222" stroke-width="1.05"/>
<text x="184.70" y="162.08" font-size="6.6" text-anchor="middle" fill="#111" stroke="#111" transform="rotate(0.03 184.70 162.08)">5</text>
<line x1="194.90" y1="163.60" x2="194.90" y2="166.80" stroke="#222" stroke-width="1.05"/>
<text x="194.90" y="162.08" font-size="6.6" text-anchor="middle" fill="#111" stroke="#111" transform="rotate(0.03 194.90 162.08)">10</text>
<line x1="205.10" y1="163.60" x2="205.10" y2="166.80" stroke="#222" stroke-width="1.05"/>
<text x="205.10" y="162.08" font-size="6.6" text-anchor="middle" fill="#111" stroke="#111" transform="rotate(0.03 205.10 162.08)">15</text>
<line x1="215.30" y1="163.60" x2="215.30" y2="166.80" stroke="#222" stroke-width="1.05"/>
<text x="215.30" y="162.08" font-size="6.6" text-anchor="middle" fill="#111" stroke="#111" transform="rotate(0.03 215.30 162.08)">20</text>
<line x1="225.50" y1="163.60" x2="225.50" y2="166.80" stroke="#222" stroke-width="1.05"/>
<text x="225.50" y="162.08" font-size="6.6" text-anchor="middle" fill="#111" stroke="#111" transform="rotate(0.03 225.50 162.08)">25</text>
<line x1="235.70" y1="163.60" x2="235.70" y2="166.80" stroke="#222" stroke-width="1.05"/>
<text x="235.70" y="162.08" font-size="6.6" text-anchor="middle" fill="#111" stroke="#111" transform="rotate(0.03 235.70 162.08)">30</text>
<line x1="245.90" y1="163.60" x2="245.90" y2="166.80" stroke="#222" stroke-width="1.05"/>
<text x="245.90" y="162.08" font-size="6.6" text-anchor="middle" fill="#111" stroke="#111" transform="rotate(0.03 245.90 162.08)">35</text>
<line x1="256.10" y1="163.60" x2="256.10" y2="166.80" stroke="#222" stroke-width="1.05"/>
<text x="256.10" y="162.08" font-size="6.6" text-anchor="middle" fill="#111" stroke="#111" transform="rotate(0.03 256.10 162.08)">40</text>
<line x1="266.30" y1="163.60" x2="266.30" y2="166.80" stroke="#222" stroke-width="1.05"/>
<text x="266.30" y="162.08" font-size="6.6" text-anchor="middle" fill="#111" stroke="#111" transform="rotate(0.03 266.30 162.08)">45</text>
<line x1="276.50" y1="163.60" x2="276.50" y2="166.80" stroke="#222" stroke-width="1.05"/>
<text x="276.50" y="162.08" font-size="6.6" text-anchor="middle" fill="#111" stroke="#111" transform="rotate(0.03 276.50 162.08)">50</text>
<line x1="286.70" y1="163.60" x2="286.70" y2="166.80" stroke="#222" stroke-width="1.05"/>
<text x="286.70" y="162.08" font-size="6.6" text-anchor="middle" fill="#111" stroke="#111" transform="rotate(0.03 286.70 162.08)">55</text>
<line x1="296.90" y1="163.60" x2="296.90" y2="166.80" stroke="#222" stroke-width="1.05"/>
<text x="296.90" y="162.08" font-size="6.6" text-anchor="middle" fill="#111" stroke="#111" transform="rotate(0.03 296.90 162.08)">60</text>
<line x1="307.10" y1="163.60" x2="307.10" y2="166.80" stroke="#222" stroke-width="1.05"/>
<text x="307.10" y="162.08" font-size="6.6" text-anchor="middle" fill="#111" stroke="#111" transform="rotate(0.03 307.10 162.08)">65</text>
<line x1="317.30" y1="163.60" x2="317.30" y2="166.80" stroke="#222" stroke-width="1.05"/>
<text x="317.30" y="162.08" font-size="6.6" text-anchor="middle" fill="#111" stroke="#111" transform="rotate(0.03 317.30 162.08)">70</text>
<line x1="174.00" y1="185.00" x2="321.20" y2="185.00" stroke="#222" stroke-width="1.05"/>
<path d="M173.00 183.40L176.00 185.00L173.00 186.60Z" fill="#e8622a"/>
<rect x="175.80" y="182.50" width="20.50" height="4.60" fill="#1470bd"/>
<ellipse cx="297" cy="185" rx="3.2" ry="3.9" fill="#e60012"/>
<line x1="321.30" y1="179.50" x2="321.30" y2="191.30" stroke="#f6a01a" stroke-width="1.1"/>
<line x1="176.30" y1="178.30" x2="175.00" y2="183.00" stroke="#222" stroke-width="0.75"/>
<line x1="199.00" y1="178.30" x2="196.30" y2="183.00" stroke="#222" stroke-width="0.75"/>
<text x="172.50" y="178.04" font-size="6.22" fill="#e8622a" stroke="#e8622a" transform="rotate(0.03 172.50 178.04)">TURBT</text>
<text x="195.50" y="178.04" font-size="6.22" fill="#2f86d0" stroke="#2f86d0" transform="rotate(0.03 195.50 178.04)">Epirubicin</text>
<text x="292.00" y="178.04" font-size="6.22" fill="#e60012" stroke="#e60012" transform="rotate(0.03 292.00 178.04)">RC</text>
<text x="309.30" y="178.04" font-size="6.22" fill="#f6a01a" stroke="#f6a01a" transform="rotate(0.03 309.30 178.04)">Alive</text>
<text x="176.30" y="194.34" font-size="6.22" fill="#111" stroke="#111" transform="rotate(0.03 176.30 194.34)">Male; Primary diagnosis, 60 years old</text>
<text x="23.75" y="267.54" font-size="6.22" fill="#111" stroke="#111" transform="rotate(0.03 23.75 267.54)">Months after initial tumor removal (CUGA-121)</text>
<line x1="17.00" y1="279.80" x2="157.68" y2="279.80" stroke="#222" stroke-width="1.15"/>
<line x1="17.50" y1="277.10" x2="17.50" y2="280.30" stroke="#222" stroke-width="1.05"/>
<text x="17.50" y="275.58" font-size="6.6" text-anchor="middle" fill="#111" stroke="#111" transform="rotate(0.03 17.50 275.58)">0</text>
<line x1="29.14" y1="277.10" x2="29.14" y2="280.30" stroke="#222" stroke-width="1.05"/>
<text x="29.14" y="275.58" font-size="6.6" text-anchor="middle" fill="#111" stroke="#111" transform="rotate(0.03 29.14 275.58)">3</text>
<line x1="40.78" y1="277.10" x2="40.78" y2="280.30" stroke="#222" stroke-width="1.05"/>
<text x="40.78" y="275.58" font-size="6.6" text-anchor="middle" fill="#111" stroke="#111" transform="rotate(0.03 40.78 275.58)">6</text>
<line x1="52.42" y1="277.10" x2="52.42" y2="280.30" stroke="#222" stroke-width="1.05"/>
<text x="52.42" y="275.58" font-size="6.6" text-anchor="middle" fill="#111" stroke="#111" transform="rotate(0.03 52.42 275.58)">9</text>
<line x1="64.06" y1="277.10" x2="64.06" y2="280.30" stroke="#222" stroke-width="1.05"/>
<text x="64.06" y="275.58" font-size="6.6" text-anchor="middle" fill="#111" stroke="#111" transform="rotate(0.03 64.06 275.58)">12</text>
<line x1="75.70" y1="277.10" x2="75.70" y2="280.30" stroke="#222" stroke-width="1.05"/>
<text x="75.70" y="275.58" font-size="6.6" text-anchor="middle" fill="#111" stroke="#111" transform="rotate(0.03 75.70 275.58)">15</text>
<line x1="87.34" y1="277.10" x2="87.34" y2="280.30" stroke="#222" stroke-width="1.05"/>
<text x="87.34" y="275.58" font-size="6.6" text-anchor="middle" fill="#111" stroke="#111" transform="rotate(0.03 87.34 275.58)">18</text>
<line x1="98.98" y1="277.10" x2="98.98" y2="280.30" stroke="#222" stroke-width="1.05"/>
<text x="98.98" y="275.58" font-size="6.6" text-anchor="middle" fill="#111" stroke="#111" transform="rotate(0.03 98.98 275.58)">21</text>
<line x1="110.62" y1="277.10" x2="110.62" y2="280.30" stroke="#222" stroke-width="1.05"/>
<text x="110.62" y="275.58" font-size="6.6" text-anchor="middle" fill="#111" stroke="#111" transform="rotate(0.03 110.62 275.58)">24</text>
<line x1="122.26" y1="277.10" x2="122.26" y2="280.30" stroke="#222" stroke-width="1.05"/>
<text x="122.26" y="275.58" font-size="6.6" text-anchor="middle" fill="#111" stroke="#111" transform="rotate(0.03 122.26 275.58)">27</text>
<line x1="133.90" y1="277.10" x2="133.90" y2="280.30" stroke="#222" stroke-width="1.05"/>
<text x="133.90" y="275.58" font-size="6.6" text-anchor="middle" fill="#111" stroke="#111" transform="rotate(0.03 133.90 275.58)">30</text>
<line x1="145.54" y1="277.10" x2="145.54" y2="280.30" stroke="#222" stroke-width="1.05"/>
<text x="145.54" y="275.58" font-size="6.6" text-anchor="middle" fill="#111" stroke="#111" transform="rotate(0.03 145.54 275.58)">33</text>
<line x1="157.18" y1="277.10" x2="157.18" y2="280.30" stroke="#222" stroke-width="1.05"/>
<text x="157.18" y="275.58" font-size="6.6" text-anchor="middle" fill="#111" stroke="#111" transform="rotate(0.03 157.18 275.58)">36</text>
<line x1="17.00" y1="298.80" x2="160.00" y2="298.80" stroke="#222" stroke-width="1.05"/>
<path d="M16.20 297.20L19.20 298.80L16.20 300.40Z" fill="#e8622a"/>
<rect x="19.20" y="296.30" width="36.30" height="4.60" fill="#1470bd"/>
<path d="M89.20 297.20L92.20 298.80L89.20 300.40Z" fill="#e8622a"/>
<rect x="92.60" y="296.30" width="28.60" height="4.60" fill="#1470bd"/>
<ellipse cx="124" cy="298.8" rx="3.2" ry="3.9" fill="#e60012"/>
<line x1="160.00" y1="292.70" x2="160.00" y2="304.80" stroke="#e0403a" stroke-width="1.1"/>
<line x1="18.80" y1="292.00" x2="17.60" y2="297.00" stroke="#222" stroke-width="0.75"/>
<line x1="58.00" y1="292.00" x2="55.50" y2="297.00" stroke="#222" stroke-width="0.75"/>
<text x="16.25" y="291.64" font-size="6.22" fill="#e8622a" stroke="#e8622a" transform="rotate(0.03 16.25 291.64)">TURBT</text>
<text x="39.25" y="291.64" font-size="6.22" fill="#2f86d0" stroke="#2f86d0" transform="rotate(0.03 39.25 291.64)">Epirubicin</text>
<text x="119.50" y="291.64" font-size="6.22" fill="#e60012" stroke="#e60012" transform="rotate(0.03 119.50 291.64)">RC</text>
<text x="142.40" y="291.64" font-size="6.22" fill="#e0403a" stroke="#e0403a" transform="rotate(0.03 142.40 291.64)">Deceased</text>
<text x="15.50" y="308.34" font-size="6.22" fill="#111" stroke="#111" transform="rotate(0.03 15.50 308.34)">Male; Primary diagnosis, 74 years old</text>
<text x="182.50" y="267.54" font-size="6.22" fill="#111" stroke="#111" transform="rotate(0.03 182.50 267.54)">Months after initial tumor removal (CUGA-164)</text>
<line x1="174.00" y1="279.80" x2="318.04" y2="279.80" stroke="#222" stroke-width="1.15"/>
<line x1="174.50" y1="277.10" x2="174.50" y2="280.30" stroke="#222" stroke-width="1.05"/>
<text x="174.50" y="275.58" font-size="6.6" text-anchor="middle" fill="#111" stroke="#111" transform="rotate(0.03 174.50 275.58)">0</text>
<line x1="186.42" y1="277.10" x2="186.42" y2="280.30" stroke="#222" stroke-width="1.05"/>
<text x="186.42" y="275.58" font-size="6.6" text-anchor="middle" fill="#111" stroke="#111" transform="rotate(0.03 186.42 275.58)">4</text>
<line x1="198.34" y1="277.10" x2="198.34" y2="280.30" stroke="#222" stroke-width="1.05"/>
<text x="198.34" y="275.58" font-size="6.6" text-anchor="middle" fill="#111" stroke="#111" transform="rotate(0.03 198.34 275.58)">8</text>
<line x1="210.26" y1="277.10" x2="210.26" y2="280.30" stroke="#222" stroke-width="1.05"/>
<text x="210.26" y="275.58" font-size="6.6" text-anchor="middle" fill="#111" stroke="#111" transform="rotate(0.03 210.26 275.58)">12</text>
<line x1="222.18" y1="277.10" x2="222.18" y2="280.30" stroke="#222" stroke-width="1.05"/>
<text x="222.18" y="275.58" font-size="6.6" text-anchor="middle" fill="#111" stroke="#111" transform="rotate(0.03 222.18 275.58)">16</text>
<line x1="234.10" y1="277.10" x2="234.10" y2="280.30" stroke="#222" stroke-width="1.05"/>
<text x="234.10" y="275.58" font-size="6.6" text-anchor="middle" fill="#111" stroke="#111" transform="rotate(0.03 234.10 275.58)">20</text>
<line x1="246.02" y1="277.10" x2="246.02" y2="280.30" stroke="#222" stroke-width="1.05"/>
<text x="246.02" y="275.58" font-size="6.6" text-anchor="middle" fill="#111" stroke="#111" transform="rotate(0.03 246.02 275.58)">24</text>
<line x1="257.94" y1="277.10" x2="257.94" y2="280.30" stroke="#222" stroke-width="1.05"/>
<text x="257.94" y="275.58" font-size="6.6" text-anchor="middle" fill="#111" stroke="#111" transform="rotate(0.03 257.94 275.58)">28</text>
<line x1="269.86" y1="277.10" x2="269.86" y2="280.30" stroke="#222" stroke-width="1.05"/>
<text x="269.86" y="275.58" font-size="6.6" text-anchor="middle" fill="#111" stroke="#111" transform="rotate(0.03 269.86 275.58)">32</text>
<line x1="281.78" y1="277.10" x2="281.78" y2="280.30" stroke="#222" stroke-width="1.05"/>
<text x="281.78" y="275.58" font-size="6.6" text-anchor="middle" fill="#111" stroke="#111" transform="rotate(0.03 281.78 275.58)">36</text>
<line x1="293.70" y1="277.10" x2="293.70" y2="280.30" stroke="#222" stroke-width="1.05"/>
<text x="293.70" y="275.58" font-size="6.6" text-anchor="middle" fill="#111" stroke="#111" transform="rotate(0.03 293.70 275.58)">40</text>
<line x1="305.62" y1="277.10" x2="305.62" y2="280.30" stroke="#222" stroke-width="1.05"/>
<text x="305.62" y="275.58" font-size="6.6" text-anchor="middle" fill="#111" stroke="#111" transform="rotate(0.03 305.62 275.58)">44</text>
<line x1="317.54" y1="277.10" x2="317.54" y2="280.30" stroke="#222" stroke-width="1.05"/>
<text x="317.54" y="275.58" font-size="6.6" text-anchor="middle" fill="#111" stroke="#111" transform="rotate(0.03 317.54 275.58)">48</text>
<line x1="174.00" y1="298.80" x2="321.20" y2="298.80" stroke="#222" stroke-width="1.05"/>
<path d="M173.00 297.20L176.00 298.80L173.00 300.40Z" fill="#e8622a"/>
<rect x="175.80" y="296.30" width="31.20" height="4.60" fill="#1470bd"/>
<path d="M287.90 297.20L290.90 298.80L287.90 300.40Z" fill="#e8622a"/>
<rect x="291.00" y="296.30" width="29.50" height="4.60" fill="#1470bd"/>
<line x1="321.30" y1="292.70" x2="321.30" y2="304.80" stroke="#f6a01a" stroke-width="1.1"/>
<line x1="176.30" y1="292.00" x2="175.00" y2="297.00" stroke="#222" stroke-width="0.75"/>
<line x1="209.50" y1="292.00" x2="207.00" y2="297.00" stroke="#222" stroke-width="0.75"/>
<text x="172.50" y="291.64" font-size="6.22" fill="#e8622a" stroke="#e8622a" transform="rotate(0.03 172.50 291.64)">TURBT</text>
<text x="195.50" y="291.64" font-size="6.22" fill="#2f86d0" stroke="#2f86d0" transform="rotate(0.03 195.50 291.64)">Epirubicin</text>
<text x="309.30" y="291.64" font-size="6.22" fill="#f6a01a" stroke="#f6a01a" transform="rotate(0.03 309.30 291.64)">Alive</text>
<text x="176.30" y="308.34" font-size="6.22" fill="#111" stroke="#111" transform="rotate(0.03 176.30 308.34)">Male; Primary diagnosis, 77 years old</text>
<rect x="18.7" y="198.1" width="44.1" height="26.9" fill="#070707"/>
<g clip-path="url(#cc187)"><g filter="url(#blur1)">
<ellipse cx="40.75" cy="211.80" rx="20.50" ry="11.00" fill="#6a6a6a"/>
<ellipse cx="40.75" cy="203.66" rx="8.61" ry="1.43" fill="#2e2e2e"/>
<ellipse cx="39.80" cy="212.60" rx="7.60" ry="8.20" fill="#454545"/>
<line x1="37.75" y1="221.92" x2="30.25" y2="215.10" stroke="#2c2c2c" stroke-width="0.8"/>
<line x1="24.76" y1="206.85" x2="28.04" y2="212.90" stroke="#3a3a3a" stroke-width="0.7"/>
<line x1="43.75" y1="221.92" x2="51.25" y2="215.10" stroke="#2c2c2c" stroke-width="0.8"/>
<line x1="56.74" y1="206.85" x2="53.46" y2="212.90" stroke="#3a3a3a" stroke-width="0.7"/>
<ellipse cx="39.80" cy="211.60" rx="5.00" ry="6.00" fill="#565656"/>
<ellipse cx="29.85" cy="210.90" rx="2.55" ry="4.88" fill="#ececec" transform="rotate(12 29.85 210.90)"/>
<ellipse cx="34.05" cy="209.40" rx="0.90" ry="2.60" fill="#b8b8b8"/>
<ellipse cx="51.65" cy="210.90" rx="2.55" ry="4.88" fill="#ececec" transform="rotate(-12 51.65 210.90)"/>
<ellipse cx="47.45" cy="209.40" rx="0.90" ry="2.60" fill="#b8b8b8"/>
<ellipse cx="40.75" cy="221.48" rx="1.60" ry="0.60" fill="#cfcfcf"/>
</g></g>
<rect x="18.70" y="229.40" width="44.10" height="25.90" fill="#b070b8" filter="url(#h1)"/>
<line x1="20.90" y1="252.10" x2="25.90" y2="252.10" stroke="#111" stroke-width="0.9"/>
<text x="20.70" y="250.90" font-size="1.9" fill="#111" stroke="#111" transform="rotate(0.03 20.70 250.90)" stroke-width="0">50 µm</text>
<text x="63.20" y="237.34" font-size="6.22" fill="#111" stroke="#111" transform="rotate(0.03 63.20 237.34)">HG</text>
<text x="63.20" y="244.94" font-size="6.22" fill="#111" stroke="#111" transform="rotate(0.03 63.20 244.94)">T2</text>
<text x="63.20" y="252.54" font-size="6.22" fill="#111" stroke="#111" transform="rotate(0.03 63.20 252.54)">ecDNA<tspan font-size="4.2" dy="-2">+</tspan></text>
<rect x="96.1" y="198.1" width="44.0" height="26.9" fill="#070707"/>
<g clip-path="url(#cc961)"><g filter="url(#blur1)">
<ellipse cx="118.10" cy="211.80" rx="20.60" ry="11.20" fill="#6e6e6e"/>
<ellipse cx="118.10" cy="203.51" rx="8.65" ry="1.46" fill="#2e2e2e"/>
<ellipse cx="117.80" cy="210.40" rx="8.20" ry="8.50" fill="#454545"/>
<line x1="115.10" y1="222.10" x2="107.60" y2="215.16" stroke="#2c2c2c" stroke-width="0.8"/>
<line x1="102.03" y1="206.76" x2="105.33" y2="212.92" stroke="#3a3a3a" stroke-width="0.7"/>
<line x1="121.10" y1="222.10" x2="128.60" y2="215.16" stroke="#2c2c2c" stroke-width="0.8"/>
<line x1="134.17" y1="206.76" x2="130.87" y2="212.92" stroke="#3a3a3a" stroke-width="0.7"/>
<ellipse cx="117.80" cy="209.40" rx="5.60" ry="6.30" fill="#5c5c5c"/>
<ellipse cx="107.60" cy="210.60" rx="2.89" ry="4.97" fill="#ececec" transform="rotate(10 107.60 210.60)"/>
<ellipse cx="112.20" cy="209.10" rx="0.90" ry="2.60" fill="#b8b8b8"/>
<ellipse cx="128.60" cy="210.60" rx="2.89" ry="4.97" fill="#ececec" transform="rotate(-10 128.60 210.60)"/>
<ellipse cx="124.00" cy="209.10" rx="0.90" ry="2.60" fill="#b8b8b8"/>
<ellipse cx="117.80" cy="218.60" rx="4.00" ry="2.80" fill="#0a0a0a"/>
<ellipse cx="118.10" cy="221.66" rx="1.60" ry="0.60" fill="#cfcfcf"/>
</g></g>
<rect x="96.40" y="229.40" width="43.40" height="25.90" fill="#b070b8" filter="url(#h2)"/>
<g mask="url(#mLR)"><rect x="96.40" y="229.40" width="43.40" height="25.90" fill="#b070b8" filter="url(#h2b)"/></g>
<line x1="98.60" y1="252.10" x2="103.60" y2="252.10" stroke="#111" stroke-width="0.9"/>
<text x="98.40" y="250.90" font-size="1.9" fill="#111" stroke="#111" transform="rotate(0.03 98.40 250.90)" stroke-width="0">50 µm</text>
<text x="140.60" y="237.34" font-size="6.22" fill="#111" stroke="#111" transform="rotate(0.03 140.60 237.34)">HG</text>
<text x="140.60" y="244.94" font-size="6.22" fill="#111" stroke="#111" transform="rotate(0.03 140.60 244.94)">T1</text>
<text x="140.60" y="252.54" font-size="6.22" fill="#111" stroke="#111" transform="rotate(0.03 140.60 252.54)">ecDNA<tspan font-size="4.2" dy="-2">+</tspan></text>
<rect x="177.4" y="198.1" width="44.2" height="26.9" fill="#070707"/>
<g clip-path="url(#cc1774)"><g filter="url(#blur1)">
<ellipse cx="199.00" cy="212.00" rx="19.20" ry="10.30" fill="#686868"/>
<ellipse cx="199.00" cy="204.38" rx="8.06" ry="1.34" fill="#2e2e2e"/>
<ellipse cx="198.80" cy="208.70" rx="7.20" ry="7.20" fill="#454545"/>
<line x1="196.00" y1="221.48" x2="188.50" y2="215.09" stroke="#2c2c2c" stroke-width="0.8"/>
<line x1="184.02" y1="207.37" x2="187.10" y2="213.03" stroke="#3a3a3a" stroke-width="0.7"/>
<line x1="202.00" y1="221.48" x2="209.50" y2="215.09" stroke="#2c2c2c" stroke-width="0.8"/>
<line x1="213.98" y1="207.37" x2="210.90" y2="213.03" stroke="#3a3a3a" stroke-width="0.7"/>
<ellipse cx="198.80" cy="207.70" rx="4.60" ry="5.00" fill="#585858"/>
<ellipse cx="189.80" cy="210.60" rx="2.55" ry="4.23" fill="#ececec" transform="rotate(12 189.80 210.60)"/>
<ellipse cx="194.00" cy="209.10" rx="0.90" ry="2.60" fill="#b8b8b8"/>
<ellipse cx="208.20" cy="210.60" rx="2.55" ry="4.23" fill="#ececec" transform="rotate(-12 208.20 210.60)"/>
<ellipse cx="204.00" cy="209.10" rx="0.90" ry="2.60" fill="#b8b8b8"/>
<ellipse cx="199.00" cy="216.60" rx="3.40" ry="2.40" fill="#0a0a0a"/>
<ellipse cx="199.00" cy="221.06" rx="1.60" ry="0.60" fill="#cfcfcf"/>
</g></g>
<rect x="177.50" y="229.50" width="43.20" height="25.80" fill="#b070b8" filter="url(#h3)"/>
<line x1="179.70" y1="252.10" x2="184.70" y2="252.10" stroke="#111" stroke-width="0.9"/>
<text x="179.50" y="250.90" font-size="1.9" fill="#111" stroke="#111" transform="rotate(0.03 179.50 250.90)" stroke-width="0">50 µm</text>
<text x="222.00" y="237.34" font-size="6.22" fill="#111" stroke="#111" transform="rotate(0.03 222.00 237.34)">HG</text>
<text x="222.00" y="244.94" font-size="6.22" fill="#111" stroke="#111" transform="rotate(0.03 222.00 244.94)">T1</text>
<text x="222.00" y="252.54" font-size="6.22" fill="#111" stroke="#111" transform="rotate(0.03 222.00 252.54)">ecDNA<tspan font-size="4.2" dy="-2">−</tspan></text>
<rect x="258.4" y="198.1" width="43.6" height="26.5" fill="#0c0c0c"/>
<g clip-path="url(#cc2584)"><g filter="url(#blur1)">
<ellipse cx="280.20" cy="211.60" rx="21.40" ry="11.40" fill="#5e5e5e"/>
<ellipse cx="280.20" cy="203.16" rx="8.99" ry="1.48" fill="#2e2e2e"/>
<ellipse cx="279.40" cy="208.00" rx="7.60" ry="6.90" fill="#454545"/>
<line x1="277.20" y1="222.09" x2="269.70" y2="215.02" stroke="#2c2c2c" stroke-width="0.8"/>
<line x1="263.51" y1="206.47" x2="266.93" y2="212.74" stroke="#3a3a3a" stroke-width="0.7"/>
<line x1="283.20" y1="222.09" x2="290.70" y2="215.02" stroke="#2c2c2c" stroke-width="0.8"/>
<line x1="296.89" y1="206.47" x2="293.47" y2="212.74" stroke="#3a3a3a" stroke-width="0.7"/>
<ellipse cx="279.40" cy="207.00" rx="5.00" ry="4.70" fill="#7a7a7a"/>
<ellipse cx="268.90" cy="209.40" rx="2.60" ry="5.00" fill="#4a4a4a" stroke="#f2f2f2" stroke-width="1.0" transform="rotate(25 268.90 209.40)"/>
<ellipse cx="291.50" cy="209.40" rx="2.60" ry="5.00" fill="#4a4a4a" stroke="#f2f2f2" stroke-width="1.0" transform="rotate(-25 291.50 209.40)"/>
<ellipse cx="280.00" cy="216.50" rx="2.50" ry="3.00" fill="#0a0a0a"/>
<ellipse cx="281.00" cy="205.60" rx="1.20" ry="1.00" fill="#fafafa"/>
<ellipse cx="280.20" cy="221.63" rx="1.60" ry="0.60" fill="#cfcfcf"/>
</g></g>
<rect x="258.80" y="229.50" width="42.40" height="25.80" fill="#b070b8" filter="url(#h4)"/>
<line x1="261.00" y1="252.10" x2="266.00" y2="252.10" stroke="#111" stroke-width="0.9"/>
<text x="260.80" y="250.90" font-size="1.9" fill="#111" stroke="#111" transform="rotate(0.03 260.80 250.90)" stroke-width="0">50 µm</text>
<text x="303.20" y="237.34" font-size="6.22" fill="#111" stroke="#111" transform="rotate(0.03 303.20 237.34)">HG</text>
<text x="303.20" y="244.94" font-size="6.22" fill="#111" stroke="#111" transform="rotate(0.03 303.20 244.94)">T1</text>
<text x="303.20" y="252.54" font-size="6.22" fill="#111" stroke="#111" transform="rotate(0.03 303.20 252.54)">ecDNA<tspan font-size="4.2" dy="-2">−</tspan></text>
<rect x="19.4" y="311.3" width="42.8" height="25.5" fill="#161616"/>
<g clip-path="url(#cc194)"><g filter="url(#blur1)">
<ellipse cx="40.80" cy="324.20" rx="20.00" ry="12.00" fill="#5c6161"/>
<ellipse cx="40.80" cy="315.32" rx="8.40" ry="1.56" fill="#2e2e2e"/>
<ellipse cx="40.50" cy="324.50" rx="6.10" ry="6.70" fill="#454545"/>
<line x1="37.80" y1="335.24" x2="30.30" y2="327.80" stroke="#2c2c2c" stroke-width="0.8"/>
<line x1="25.20" y1="318.80" x2="28.40" y2="325.40" stroke="#3a3a3a" stroke-width="0.7"/>
<line x1="43.80" y1="335.24" x2="51.30" y2="327.80" stroke="#2c2c2c" stroke-width="0.8"/>
<line x1="56.40" y1="318.80" x2="53.20" y2="325.40" stroke="#3a3a3a" stroke-width="0.7"/>
<ellipse cx="40.50" cy="323.50" rx="3.50" ry="4.50" fill="#505555"/>
<ellipse cx="31.05" cy="322.90" rx="2.30" ry="4.60" fill="#4a4a4a" stroke="#f2f2f2" stroke-width="1.0" transform="rotate(25 31.05 322.90)"/>
<ellipse cx="50.55" cy="322.90" rx="2.30" ry="4.60" fill="#4a4a4a" stroke="#f2f2f2" stroke-width="1.0" transform="rotate(-25 50.55 322.90)"/>
<ellipse cx="40.30" cy="317.80" rx="2.30" ry="2.00" fill="#fafafa"/>
<ellipse cx="40.80" cy="334.76" rx="1.60" ry="0.60" fill="#cfcfcf"/>
</g></g>
<rect x="18.90" y="342.30" width="43.30" height="26.20" fill="#b070b8" filter="url(#h5)"/>
<line x1="21.10" y1="365.30" x2="26.10" y2="365.30" stroke="#111" stroke-width="0.9"/>
<text x="20.90" y="364.10" font-size="1.9" fill="#111" stroke="#111" transform="rotate(0.03 20.90 364.10)" stroke-width="0">50 µm</text>
<text x="62.90" y="352.14" font-size="6.22" fill="#111" stroke="#111" transform="rotate(0.03 62.90 352.14)">HG</text>
<text x="62.90" y="359.74" font-size="6.22" fill="#111" stroke="#111" transform="rotate(0.03 62.90 359.74)">Ta</text>
<text x="62.90" y="367.34" font-size="6.22" fill="#111" stroke="#111" transform="rotate(0.03 62.90 367.34)">ecDNA<tspan font-size="4.2" dy="-2">−</tspan></text>
<rect x="96.4" y="311.3" width="43.2" height="26.5" fill="#070707"/>
<g clip-path="url(#cc964)"><g filter="url(#blur1)">
<ellipse cx="118.50" cy="325.70" rx="19.70" ry="8.70" fill="#8a9090"/>
<ellipse cx="118.50" cy="319.26" rx="8.27" ry="1.13" fill="#2e2e2e"/>
<line x1="115.50" y1="333.70" x2="108.00" y2="328.31" stroke="#2c2c2c" stroke-width="0.8"/>
<line x1="103.13" y1="321.78" x2="106.29" y2="326.57" stroke="#3a3a3a" stroke-width="0.7"/>
<line x1="121.50" y1="333.70" x2="129.00" y2="328.31" stroke="#2c2c2c" stroke-width="0.8"/>
<line x1="133.87" y1="321.78" x2="130.71" y2="326.57" stroke="#3a3a3a" stroke-width="0.7"/>
<ellipse cx="109.00" cy="325.20" rx="5.50" ry="4.60" fill="#d4d8d8"/>
<ellipse cx="128.50" cy="324.70" rx="5.00" ry="4.20" fill="#d0d4d4"/>
<ellipse cx="103.50" cy="326.70" rx="3.00" ry="4.00" fill="#a8adad"/>
<ellipse cx="134.00" cy="326.70" rx="3.00" ry="4.00" fill="#a8adad"/>
<ellipse cx="118.20" cy="327.90" rx="6.20" ry="6.20" fill="#333"/>
<ellipse cx="118.20" cy="327.90" rx="5.50" ry="5.50" fill="#707878"/>
<ellipse cx="118.00" cy="320.20" rx="2.80" ry="2.10" fill="#0a0a0a"/>
<ellipse cx="118.50" cy="333.36" rx="1.60" ry="0.60" fill="#cfcfcf"/>
</g></g>
<rect x="96.50" y="342.30" width="42.00" height="26.00" fill="#b070b8" filter="url(#h6)"/>
<line x1="98.70" y1="365.10" x2="103.70" y2="365.10" stroke="#111" stroke-width="0.9"/>
<text x="98.50" y="363.90" font-size="1.9" fill="#111" stroke="#111" transform="rotate(0.03 98.50 363.90)" stroke-width="0">50 µm</text>
<text x="139.40" y="352.14" font-size="6.22" fill="#111" stroke="#111" transform="rotate(0.03 139.40 352.14)">HG</text>
<text x="139.40" y="359.74" font-size="6.22" fill="#111" stroke="#111" transform="rotate(0.03 139.40 359.74)">T3</text>
<text x="139.40" y="367.34" font-size="6.22" fill="#111" stroke="#111" transform="rotate(0.03 139.40 367.34)">ecDNA<tspan font-size="4.2" dy="-2">+</tspan></text>
<rect x="177.7" y="311.0" width="43.9" height="26.3" fill="#070707"/>
<g clip-path="url(#cc1777)"><g filter="url(#blur1)">
<ellipse cx="199.50" cy="324.20" rx="20.70" ry="11.80" fill="#5c5c5c"/>
<ellipse cx="199.50" cy="315.47" rx="8.69" ry="1.53" fill="#2e2e2e"/>
<line x1="196.50" y1="335.06" x2="189.00" y2="327.74" stroke="#2c2c2c" stroke-width="0.8"/>
<line x1="183.35" y1="318.89" x2="186.67" y2="325.38" stroke="#3a3a3a" stroke-width="0.7"/>
<line x1="202.50" y1="335.06" x2="210.00" y2="327.74" stroke="#2c2c2c" stroke-width="0.8"/>
<line x1="215.65" y1="318.89" x2="212.33" y2="325.38" stroke="#3a3a3a" stroke-width="0.7"/>
<ellipse cx="199.20" cy="322.50" rx="7.20" ry="8.60" fill="#222"/>
<ellipse cx="199.00" cy="319.00" rx="4.30" ry="4.30" fill="#5a5a5a"/>
<ellipse cx="189.75" cy="323.60" rx="2.80" ry="4.60" fill="#ececec" transform="rotate(14 189.75 323.60)"/>
<ellipse cx="194.25" cy="322.10" rx="0.90" ry="2.60" fill="#b8b8b8"/>
<ellipse cx="209.25" cy="323.60" rx="2.80" ry="4.60" fill="#ececec" transform="rotate(-14 209.25 323.60)"/>
<ellipse cx="204.75" cy="322.10" rx="0.90" ry="2.60" fill="#b8b8b8"/>
<ellipse cx="198.80" cy="327.90" rx="3.00" ry="3.00" fill="#111" stroke="#777" stroke-width="0.9"/>
<ellipse cx="199.50" cy="334.58" rx="1.60" ry="0.60" fill="#cfcfcf"/>
</g></g>
<rect x="177.60" y="342.50" width="43.40" height="26.00" fill="#b070b8" filter="url(#h7)"/>
<line x1="179.80" y1="365.30" x2="184.80" y2="365.30" stroke="#111" stroke-width="0.9"/>
<text x="179.60" y="364.10" font-size="1.9" fill="#111" stroke="#111" transform="rotate(0.03 179.60 364.10)" stroke-width="0">50 µm</text>
<text x="221.90" y="352.14" font-size="6.22" fill="#111" stroke="#111" transform="rotate(0.03 221.90 352.14)">HG</text>
<text x="221.90" y="359.74" font-size="6.22" fill="#111" stroke="#111" transform="rotate(0.03 221.90 359.74)">T2</text>
<text x="221.90" y="367.34" font-size="6.22" fill="#111" stroke="#111" transform="rotate(0.03 221.90 367.34)">ecDNA<tspan font-size="4.2" dy="-2">−</tspan></text>
<rect x="258.2" y="310.8" width="43.8" height="26.5" fill="#070707"/>
<g clip-path="url(#cc2582)"><g filter="url(#blur1)">
<ellipse cx="281.50" cy="324.00" rx="19.60" ry="12.20" fill="none" stroke="#5a5a5a" stroke-width="0.6"/>
<ellipse cx="281.50" cy="323.80" rx="17.80" ry="11.00" fill="#5a5a5a"/>
<ellipse cx="281.50" cy="315.66" rx="7.48" ry="1.43" fill="#2e2e2e"/>
<line x1="278.50" y1="333.92" x2="271.00" y2="327.10" stroke="#2c2c2c" stroke-width="0.8"/>
<line x1="267.62" y1="318.85" x2="270.46" y2="324.90" stroke="#3a3a3a" stroke-width="0.7"/>
<line x1="284.50" y1="333.92" x2="292.00" y2="327.10" stroke="#2c2c2c" stroke-width="0.8"/>
<line x1="295.38" y1="318.85" x2="292.54" y2="324.90" stroke="#3a3a3a" stroke-width="0.7"/>
<ellipse cx="280.60" cy="323.50" rx="5.80" ry="8.00" fill="#181818"/>
<ellipse cx="280.10" cy="321.20" rx="2.90" ry="3.60" fill="#666"/>
<ellipse cx="273.50" cy="324.00" rx="1.87" ry="3.77" fill="#ececec" transform="rotate(14 273.50 324.00)"/>
<ellipse cx="276.90" cy="322.50" rx="0.90" ry="2.60" fill="#b8b8b8"/>
<ellipse cx="289.50" cy="324.00" rx="1.87" ry="3.77" fill="#ececec" transform="rotate(-14 289.50 324.00)"/>
<ellipse cx="286.10" cy="322.50" rx="0.90" ry="2.60" fill="#b8b8b8"/>
<ellipse cx="281.50" cy="333.48" rx="1.60" ry="0.60" fill="#cfcfcf"/>
</g></g>
<rect x="258.60" y="342.50" width="43.00" height="26.00" fill="#b070b8" filter="url(#h8)"/>
<line x1="260.80" y1="365.30" x2="265.80" y2="365.30" stroke="#111" stroke-width="0.9"/>
<text x="260.60" y="364.10" font-size="1.9" fill="#111" stroke="#111" transform="rotate(0.03 260.60 364.10)" stroke-width="0">50 µm</text>
<text x="303.40" y="352.14" font-size="6.22" fill="#111" stroke="#111" transform="rotate(0.03 303.40 352.14)">HG</text>
<text x="303.40" y="359.74" font-size="6.22" fill="#111" stroke="#111" transform="rotate(0.03 303.40 359.74)">T1</text>
<text x="303.40" y="367.34" font-size="6.22" fill="#111" stroke="#111" transform="rotate(0.03 303.40 367.34)">ecDNA<tspan font-size="4.2" dy="-2">−</tspan></text>
<text x="64.60" y="213.14" font-size="6.22" fill="#111" stroke="#111" transform="rotate(0.03 64.60 213.14)">Multifocal</text>
</g>
<g id="panelC">
<text x="331.10" y="136.24" font-size="10.4" font-weight="bold" fill="#111" stroke="#111" transform="rotate(0.03 331.10 136.24)">C</text>
<text x="429.20" y="141.42" font-size="7.0" text-anchor="middle" font-weight="bold" fill="#111" stroke="#111" transform="rotate(0.03 429.20 141.42)">Phylogenetic trees</text>
<rect x="337.2" y="143.9" width="177.8" height="228" fill="#fff" stroke="#7a7575" stroke-width="1.6"/>
<text x="381.20" y="153.75" font-size="6.8" text-anchor="middle" fill="#111" stroke="#111" transform="rotate(0.03 381.20 153.75)">CUGA-058</text>
<text x="464.90" y="153.75" font-size="6.8" text-anchor="middle" fill="#111" stroke="#111" transform="rotate(0.03 464.90 153.75)">CUGA-077</text>
<text x="381.20" y="273.25" font-size="6.8" text-anchor="middle" fill="#111" stroke="#111" transform="rotate(0.03 381.20 273.25)">CUGA-121</text>
<text x="464.90" y="273.25" font-size="6.8" text-anchor="middle" fill="#111" stroke="#111" transform="rotate(0.03 464.90 273.25)">CUGA-164</text>
<line x1="383.10" y1="247.20" x2="383.10" y2="210.60" stroke="#74c465" stroke-width="2.8" stroke-linecap="round"/>
<line x1="383.10" y1="210.60" x2="412.00" y2="159.50" stroke="#fdb56c" stroke-width="2.8" stroke-linecap="round"/>
<line x1="383.10" y1="210.60" x2="368.90" y2="185.30" stroke="#e2472a" stroke-width="2.8" stroke-linecap="round"/>
<circle cx="383.10" cy="247.40" r="1.65" fill="#e9c9c4" stroke="#520a1c" stroke-width="1.8"/>
<circle cx="368.90" cy="185.40" r="1.65" fill="#e9c9c4" stroke="#520a1c" stroke-width="1.8"/>
<circle cx="412.20" cy="159.70" r="1.65" fill="#e9c9c4" stroke="#520a1c" stroke-width="1.8"/>
<text x="406.40" y="162.94" font-size="6.5" text-anchor="end" fill="#111" stroke="#111" transform="rotate(0.03 406.40 162.94)">Recurrent</text>
<text x="345.60" y="181.74" font-size="6.5" fill="#111" stroke="#111" transform="rotate(0.03 345.60 181.74)">Primary</text>
<text x="382.00" y="256.14" font-size="6.5" text-anchor="middle" fill="#111" stroke="#111" transform="rotate(0.03 382.00 256.14)">Normal</text>
<line x1="444.20" y1="246.90" x2="444.60" y2="243.50" stroke="#74c465" stroke-width="1.9" stroke-linecap="round"/>
<line x1="444.60" y1="243.50" x2="485.10" y2="171.90" stroke="#fdb56c" stroke-width="2.8" stroke-linecap="round"/>
<line x1="444.60" y1="243.50" x2="442.40" y2="240.10" stroke="#e2472a" stroke-width="1.9" stroke-linecap="round"/>
<circle cx="444.20" cy="246.90" r="1.65" fill="#e9c9c4" stroke="#520a1c" stroke-width="1.8"/>
<circle cx="442.40" cy="240.10" r="1.65" fill="#e9c9c4" stroke="#520a1c" stroke-width="1.8"/>
<circle cx="485.10" cy="171.90" r="1.65" fill="#e9c9c4" stroke="#520a1c" stroke-width="1.8"/>
<text x="479.90" y="173.94" font-size="6.5" text-anchor="end" fill="#111" stroke="#111" transform="rotate(0.03 479.90 173.94)">Recurrent</text>
<text x="418.00" y="236.84" font-size="6.5" fill="#111" stroke="#111" transform="rotate(0.03 418.00 236.84)">Primary</text>
<text x="444.20" y="256.14" font-size="6.5" text-anchor="middle" fill="#111" stroke="#111" transform="rotate(0.03 444.20 256.14)">Normal</text>
<line x1="465.6" y1="231.1" x2="475" y2="231.1" stroke="#74c465" stroke-width="2.6"/>
<text x="478.00" y="233.62" font-size="7.0" fill="#111" stroke="#111" transform="rotate(0.03 478.00 233.62)">Public</text>
<line x1="465.6" y1="243.5" x2="475" y2="243.5" stroke="#fdb56c" stroke-width="2.6"/>
<text x="478.00" y="246.02" font-size="7.0" fill="#111" stroke="#111" transform="rotate(0.03 478.00 246.02)">Private_R</text>
<line x1="465.6" y1="255.9" x2="475" y2="255.9" stroke="#e2472a" stroke-width="2.6"/>
<text x="478.00" y="258.42" font-size="7.0" fill="#111" stroke="#111" transform="rotate(0.03 478.00 258.42)">Private_P</text>
<line x1="364.40" y1="359.60" x2="364.20" y2="356.00" stroke="#74c465" stroke-width="1.9" stroke-linecap="round"/>
<line x1="364.20" y1="356.00" x2="405.20" y2="284.20" stroke="#fdb56c" stroke-width="2.8" stroke-linecap="round"/>
<line x1="364.20" y1="356.00" x2="362.50" y2="352.50" stroke="#e2472a" stroke-width="1.9" stroke-linecap="round"/>
<circle cx="364.40" cy="359.60" r="1.65" fill="#e9c9c4" stroke="#520a1c" stroke-width="1.8"/>
<circle cx="362.50" cy="352.50" r="1.65" fill="#e9c9c4" stroke="#520a1c" stroke-width="1.8"/>
<circle cx="405.20" cy="284.20" r="1.65" fill="#e9c9c4" stroke="#520a1c" stroke-width="1.8"/>
<text x="401.10" y="286.24" font-size="6.5" text-anchor="end" fill="#111" stroke="#111" transform="rotate(0.03 401.10 286.24)">Recurrent</text>
<text x="340.70" y="348.04" font-size="6.5" fill="#111" stroke="#111" transform="rotate(0.03 340.70 348.04)">Primary</text>
<text x="365.10" y="369.14" font-size="6.5" text-anchor="middle" fill="#111" stroke="#111" transform="rotate(0.03 365.10 369.14)">Normal</text>
<line x1="444.20" y1="359.60" x2="443.60" y2="355.50" stroke="#74c465" stroke-width="1.9" stroke-linecap="round"/>
<line x1="443.60" y1="355.50" x2="483.20" y2="288.00" stroke="#fdb56c" stroke-width="2.8" stroke-linecap="round"/>
<line x1="443.60" y1="355.50" x2="440.50" y2="350.20" stroke="#e2472a" stroke-width="1.9" stroke-linecap="round"/>
<circle cx="444.20" cy="359.60" r="1.65" fill="#e9c9c4" stroke="#520a1c" stroke-width="1.8"/>
<circle cx="440.50" cy="350.20" r="1.65" fill="#e9c9c4" stroke="#520a1c" stroke-width="1.8"/>
<circle cx="483.20" cy="288.00" r="1.65" fill="#e9c9c4" stroke="#520a1c" stroke-width="1.8"/>
<text x="478.00" y="286.24" font-size="6.5" text-anchor="end" fill="#111" stroke="#111" transform="rotate(0.03 478.00 286.24)">Recurrent</text>
<text x="414.20" y="348.04" font-size="6.5" fill="#111" stroke="#111" transform="rotate(0.03 414.20 348.04)">Primary</text>
<text x="444.20" y="369.14" font-size="6.5" text-anchor="middle" fill="#111" stroke="#111" transform="rotate(0.03 444.20 369.14)">Normal</text>
</g>
<g id="panelD">
<text x="0.10" y="393.34" font-size="10.4" font-weight="bold" fill="#111" stroke="#111" transform="rotate(0.03 0.10 393.34)">D</text>
<text x="145.75" y="398.44" font-size="7.06" font-weight="bold" fill="#111" stroke="#111" transform="rotate(0.03 145.75 398.44)">ecDNAs identified in patients CUGA-058, CUGA-077, and CUGA-121</text>
<line x1="13.00" y1="402.60" x2="520.00" y2="402.60" stroke="#4a4444" stroke-width="1.3"/>
<line x1="13.00" y1="416.30" x2="520.00" y2="416.30" stroke="#4a4444" stroke-width="1.3"/>
<line x1="13.00" y1="551.80" x2="520.00" y2="551.80" stroke="#111" stroke-width="1.4"/>
<text x="39.50" y="412.15" font-size="6.8" text-anchor="middle" font-weight="bold" fill="#111" stroke="#111" transform="rotate(0.03 39.50 412.15)">Patient</text>
<text x="127.75" y="412.15" font-size="6.8" text-anchor="middle" font-weight="bold" fill="#111" stroke="#111" transform="rotate(0.03 127.75 412.15)">Primary tumor (P)</text>
<text x="216.00" y="412.15" font-size="6.8" text-anchor="middle" font-weight="bold" fill="#111" stroke="#111" transform="rotate(0.03 216.00 412.15)">Recurrent tumor (R)</text>
<text x="305.00" y="412.15" font-size="6.8" text-anchor="middle" font-weight="bold" fill="#111" stroke="#111" transform="rotate(0.03 305.00 412.15)">Similarity score (<tspan font-style="italic">P</tspan> value)</text>
<text x="393.75" y="412.15" font-size="6.8" text-anchor="middle" font-weight="bold" fill="#111" stroke="#111" transform="rotate(0.03 393.75 412.15)">Complexity score (P/R)</text>
<text x="481.00" y="412.15" font-size="6.8" text-anchor="middle" font-weight="bold" fill="#111" stroke="#111" transform="rotate(0.03 481.00 412.15)">No. of CN states (P/R)</text>
<rect x="13.00" y="416.95" width="507.00" height="12.00" fill="#ededed"/>
<text x="39.50" y="425.15" font-size="6.8" text-anchor="middle" fill="#2e2e2e" stroke="#2e2e2e" transform="rotate(0.03 39.50 425.15)">CUGA-058</text>
<text x="127.60" y="426.35" font-size="6.8" text-anchor="middle" fill="#2e2e2e" stroke="#2e2e2e" transform="rotate(0.03 127.60 426.35)">T_amplicon15_ecDNA_1</text>
<text x="215.50" y="424.25" font-size="6.8" text-anchor="middle" fill="#2e2e2e" stroke="#2e2e2e" transform="rotate(0.03 215.50 424.25)">T-Rp_amplicon5_ecDNA_1</text>
<text x="303.30" y="425.75" font-size="6.8" text-anchor="middle" fill="#2e2e2e" stroke="#2e2e2e" transform="rotate(0.03 303.30 425.75)">0.5225 (0.0060)</text>
<text x="390.20" y="426.05" font-size="6.8" text-anchor="middle" fill="#2e2e2e" stroke="#2e2e2e" transform="rotate(0.03 390.20 426.05)">4.9494/0.6847</text>
<text x="479.00" y="426.05" font-size="6.8" text-anchor="middle" fill="#2e2e2e" stroke="#2e2e2e" transform="rotate(0.03 479.00 426.05)">4/1</text>
<text x="39.50" y="437.35" font-size="6.8" text-anchor="middle" fill="#2e2e2e" stroke="#2e2e2e" transform="rotate(0.03 39.50 437.35)">CUGA-058</text>
<text x="127.60" y="438.55" font-size="6.8" text-anchor="middle" fill="#2e2e2e" stroke="#2e2e2e" transform="rotate(0.03 127.60 438.55)">T_amplicon13_ecDNA_1</text>
<text x="215.50" y="436.45" font-size="6.8" text-anchor="middle" fill="#666" stroke="#666" transform="rotate(0.03 215.50 436.45)">/</text>
<text x="303.30" y="437.95" font-size="6.8" text-anchor="middle" fill="#666" stroke="#666" transform="rotate(0.03 303.30 437.95)">/</text>
<text x="390.20" y="438.25" font-size="6.8" text-anchor="middle" fill="#2e2e2e" stroke="#2e2e2e" transform="rotate(0.03 390.20 438.25)">5.0843/none</text>
<text x="479.00" y="438.25" font-size="6.8" text-anchor="middle" fill="#2e2e2e" stroke="#2e2e2e" transform="rotate(0.03 479.00 438.25)">3/none</text>
<text x="39.50" y="449.55" font-size="6.8" text-anchor="middle" fill="#2e2e2e" stroke="#2e2e2e" transform="rotate(0.03 39.50 449.55)">CUGA-058</text>
<text x="127.60" y="450.75" font-size="6.8" text-anchor="middle" fill="#2e2e2e" stroke="#2e2e2e" transform="rotate(0.03 127.60 450.75)">T_amplicon6_ecDNA_1</text>
<text x="215.50" y="448.65" font-size="6.8" text-anchor="middle" fill="#666" stroke="#666" transform="rotate(0.03 215.50 448.65)">/</text>
<text x="303.30" y="450.15" font-size="6.8" text-anchor="middle" fill="#666" stroke="#666" transform="rotate(0.03 303.30 450.15)">/</text>
<text x="390.20" y="450.45" font-size="6.8" text-anchor="middle" fill="#2e2e2e" stroke="#2e2e2e" transform="rotate(0.03 390.20 450.45)">5.7637/none</text>
<text x="479.00" y="450.45" font-size="6.8" text-anchor="middle" fill="#2e2e2e" stroke="#2e2e2e" transform="rotate(0.03 479.00 450.45)">26/none</text>
<text x="39.50" y="461.75" font-size="6.8" text-anchor="middle" fill="#2e2e2e" stroke="#2e2e2e" transform="rotate(0.03 39.50 461.75)">CUGA-058</text>
<text x="127.60" y="462.95" font-size="6.8" text-anchor="middle" fill="#666" stroke="#666" transform="rotate(0.03 127.60 462.95)">/</text>
<text x="215.50" y="460.85" font-size="6.8" text-anchor="middle" fill="#2e2e2e" stroke="#2e2e2e" transform="rotate(0.03 215.50 460.85)">Rp_amplicon1_ecDNA_2</text>
<text x="303.30" y="462.35" font-size="6.8" text-anchor="middle" fill="#666" stroke="#666" transform="rotate(0.03 303.30 462.35)">/</text>
<text x="390.20" y="462.65" font-size="6.8" text-anchor="middle" fill="#2e2e2e" stroke="#2e2e2e" transform="rotate(0.03 390.20 462.65)">none/2.8632</text>
<text x="479.00" y="462.65" font-size="6.8" text-anchor="middle" fill="#2e2e2e" stroke="#2e2e2e" transform="rotate(0.03 479.00 462.65)">none/2</text>
<rect x="13.00" y="465.75" width="507.00" height="12.00" fill="#ededed"/>
<text x="39.50" y="473.95" font-size="6.8" text-anchor="middle" fill="#2e2e2e" stroke="#2e2e2e" transform="rotate(0.03 39.50 473.95)">CUGA-077</text>
<text x="127.60" y="475.15" font-size="6.8" text-anchor="middle" fill="#2e2e2e" stroke="#2e2e2e" transform="rotate(0.03 127.60 475.15)">T_amplicon2_ecDNA_1</text>
<text x="215.50" y="473.05" font-size="6.8" text-anchor="middle" fill="#2e2e2e" stroke="#2e2e2e" transform="rotate(0.03 215.50 473.05)">Rp2_amplicon1_ecDNA_3</text>
<text x="303.30" y="474.55" font-size="6.8" text-anchor="middle" fill="#2e2e2e" stroke="#2e2e2e" transform="rotate(0.03 303.30 474.55)">0.4063 (0.0028)</text>
<text x="390.20" y="474.85" font-size="6.8" text-anchor="middle" fill="#2e2e2e" stroke="#2e2e2e" transform="rotate(0.03 390.20 474.85)">3.9113/4.9476</text>
<text x="479.00" y="474.85" font-size="6.8" text-anchor="middle" fill="#2e2e2e" stroke="#2e2e2e" transform="rotate(0.03 479.00 474.85)">5/4</text>
<text x="39.50" y="486.15" font-size="6.8" text-anchor="middle" fill="#2e2e2e" stroke="#2e2e2e" transform="rotate(0.03 39.50 486.15)">CUGA-077</text>
<text x="127.60" y="487.35" font-size="6.8" text-anchor="middle" fill="#666" stroke="#666" transform="rotate(0.03 127.60 487.35)">/</text>
<text x="215.50" y="485.25" font-size="6.8" text-anchor="middle" fill="#2e2e2e" stroke="#2e2e2e" transform="rotate(0.03 215.50 485.25)">Rp2_amplicon1_ecDNA_1</text>
<text x="303.30" y="486.75" font-size="6.8" text-anchor="middle" fill="#666" stroke="#666" transform="rotate(0.03 303.30 486.75)">/</text>
<text x="390.20" y="487.05" font-size="6.8" text-anchor="middle" fill="#2e2e2e" stroke="#2e2e2e" transform="rotate(0.03 390.20 487.05)">none/5.5574</text>
<text x="479.00" y="487.05" font-size="6.8" text-anchor="middle" fill="#2e2e2e" stroke="#2e2e2e" transform="rotate(0.03 479.00 487.05)">none/10</text>
<text x="39.50" y="498.35" font-size="6.8" text-anchor="middle" fill="#2e2e2e" stroke="#2e2e2e" transform="rotate(0.03 39.50 498.35)">CUGA-077</text>
<text x="127.60" y="499.55" font-size="6.8" text-anchor="middle" fill="#666" stroke="#666" transform="rotate(0.03 127.60 499.55)">/</text>
<text x="215.50" y="497.45" font-size="6.8" text-anchor="middle" fill="#2e2e2e" stroke="#2e2e2e" transform="rotate(0.03 215.50 497.45)">Rp2_amplicon1_ecDNA_2</text>
<text x="303.30" y="498.95" font-size="6.8" text-anchor="middle" fill="#666" stroke="#666" transform="rotate(0.03 303.30 498.95)">/</text>
<text x="390.20" y="499.25" font-size="6.8" text-anchor="middle" fill="#2e2e2e" stroke="#2e2e2e" transform="rotate(0.03 390.20 499.25)">none/4.1419</text>
<text x="479.00" y="499.25" font-size="6.8" text-anchor="middle" fill="#2e2e2e" stroke="#2e2e2e" transform="rotate(0.03 479.00 499.25)">none/9</text>
<text x="39.50" y="510.55" font-size="6.8" text-anchor="middle" fill="#2e2e2e" stroke="#2e2e2e" transform="rotate(0.03 39.50 510.55)">CUGA-077</text>
<text x="127.60" y="511.75" font-size="6.8" text-anchor="middle" fill="#666" stroke="#666" transform="rotate(0.03 127.60 511.75)">/</text>
<text x="215.50" y="509.65" font-size="6.8" text-anchor="middle" fill="#2e2e2e" stroke="#2e2e2e" transform="rotate(0.03 215.50 509.65)">Rp2_amplicon2_ecDNA_1</text>
<text x="303.30" y="511.15" font-size="6.8" text-anchor="middle" fill="#666" stroke="#666" transform="rotate(0.03 303.30 511.15)">/</text>
<text x="390.20" y="511.45" font-size="6.8" text-anchor="middle" fill="#2e2e2e" stroke="#2e2e2e" transform="rotate(0.03 390.20 511.45)">none/4.1335</text>
<text x="479.00" y="511.45" font-size="6.8" text-anchor="middle" fill="#2e2e2e" stroke="#2e2e2e" transform="rotate(0.03 479.00 511.45)">none/2</text>
<rect x="13.00" y="514.55" width="507.00" height="12.00" fill="#ededed"/>
<text x="39.50" y="522.75" font-size="6.8" text-anchor="middle" fill="#2e2e2e" stroke="#2e2e2e" transform="rotate(0.03 39.50 522.75)">CUGA-121</text>
<text x="127.60" y="523.95" font-size="6.8" text-anchor="middle" fill="#666" stroke="#666" transform="rotate(0.03 127.60 523.95)">/</text>
<text x="215.50" y="521.85" font-size="6.8" text-anchor="middle" fill="#2e2e2e" stroke="#2e2e2e" transform="rotate(0.03 215.50 521.85)">Rp_amplicon2_ecDNA_1</text>
<text x="303.30" y="523.35" font-size="6.8" text-anchor="middle" fill="#666" stroke="#666" transform="rotate(0.03 303.30 523.35)">/</text>
<text x="390.20" y="523.65" font-size="6.8" text-anchor="middle" fill="#2e2e2e" stroke="#2e2e2e" transform="rotate(0.03 390.20 523.65)">none/3.6415</text>
<text x="479.00" y="523.65" font-size="6.8" text-anchor="middle" fill="#2e2e2e" stroke="#2e2e2e" transform="rotate(0.03 479.00 523.65)">none/3</text>
<text x="39.50" y="534.95" font-size="6.8" text-anchor="middle" fill="#2e2e2e" stroke="#2e2e2e" transform="rotate(0.03 39.50 534.95)">CUGA-121</text>
<text x="127.60" y="536.15" font-size="6.8" text-anchor="middle" fill="#666" stroke="#666" transform="rotate(0.03 127.60 536.15)">/</text>
<text x="215.50" y="534.05" font-size="6.8" text-anchor="middle" fill="#2e2e2e" stroke="#2e2e2e" transform="rotate(0.03 215.50 534.05)">Rp_amplicon2_ecDNA_2</text>
<text x="303.30" y="535.55" font-size="6.8" text-anchor="middle" fill="#666" stroke="#666" transform="rotate(0.03 303.30 535.55)">/</text>
<text x="390.20" y="535.85" font-size="6.8" text-anchor="middle" fill="#2e2e2e" stroke="#2e2e2e" transform="rotate(0.03 390.20 535.85)">none/4.5932</text>
<text x="479.00" y="535.85" font-size="6.8" text-anchor="middle" fill="#2e2e2e" stroke="#2e2e2e" transform="rotate(0.03 479.00 535.85)">none/7</text>
<text x="39.50" y="547.15" font-size="6.8" text-anchor="middle" fill="#2e2e2e" stroke="#2e2e2e" transform="rotate(0.03 39.50 547.15)">CUGA-121</text>
<text x="127.60" y="548.35" font-size="6.8" text-anchor="middle" fill="#666" stroke="#666" transform="rotate(0.03 127.60 548.35)">/</text>
<text x="215.50" y="546.25" font-size="6.8" text-anchor="middle" fill="#2e2e2e" stroke="#2e2e2e" transform="rotate(0.03 215.50 546.25)">Rp_amplicon2_ecDNA_3</text>
<text x="303.30" y="547.75" font-size="6.8" text-anchor="middle" fill="#666" stroke="#666" transform="rotate(0.03 303.30 547.75)">/</text>
<text x="390.20" y="548.05" font-size="6.8" text-anchor="middle" fill="#2e2e2e" stroke="#2e2e2e" transform="rotate(0.03 390.20 548.05)">none/1.3662</text>
<text x="479.00" y="548.05" font-size="6.8" text-anchor="middle" fill="#2e2e2e" stroke="#2e2e2e" transform="rotate(0.03 479.00 548.05)">none/1</text>
</g>
</svg>
</body></html>
